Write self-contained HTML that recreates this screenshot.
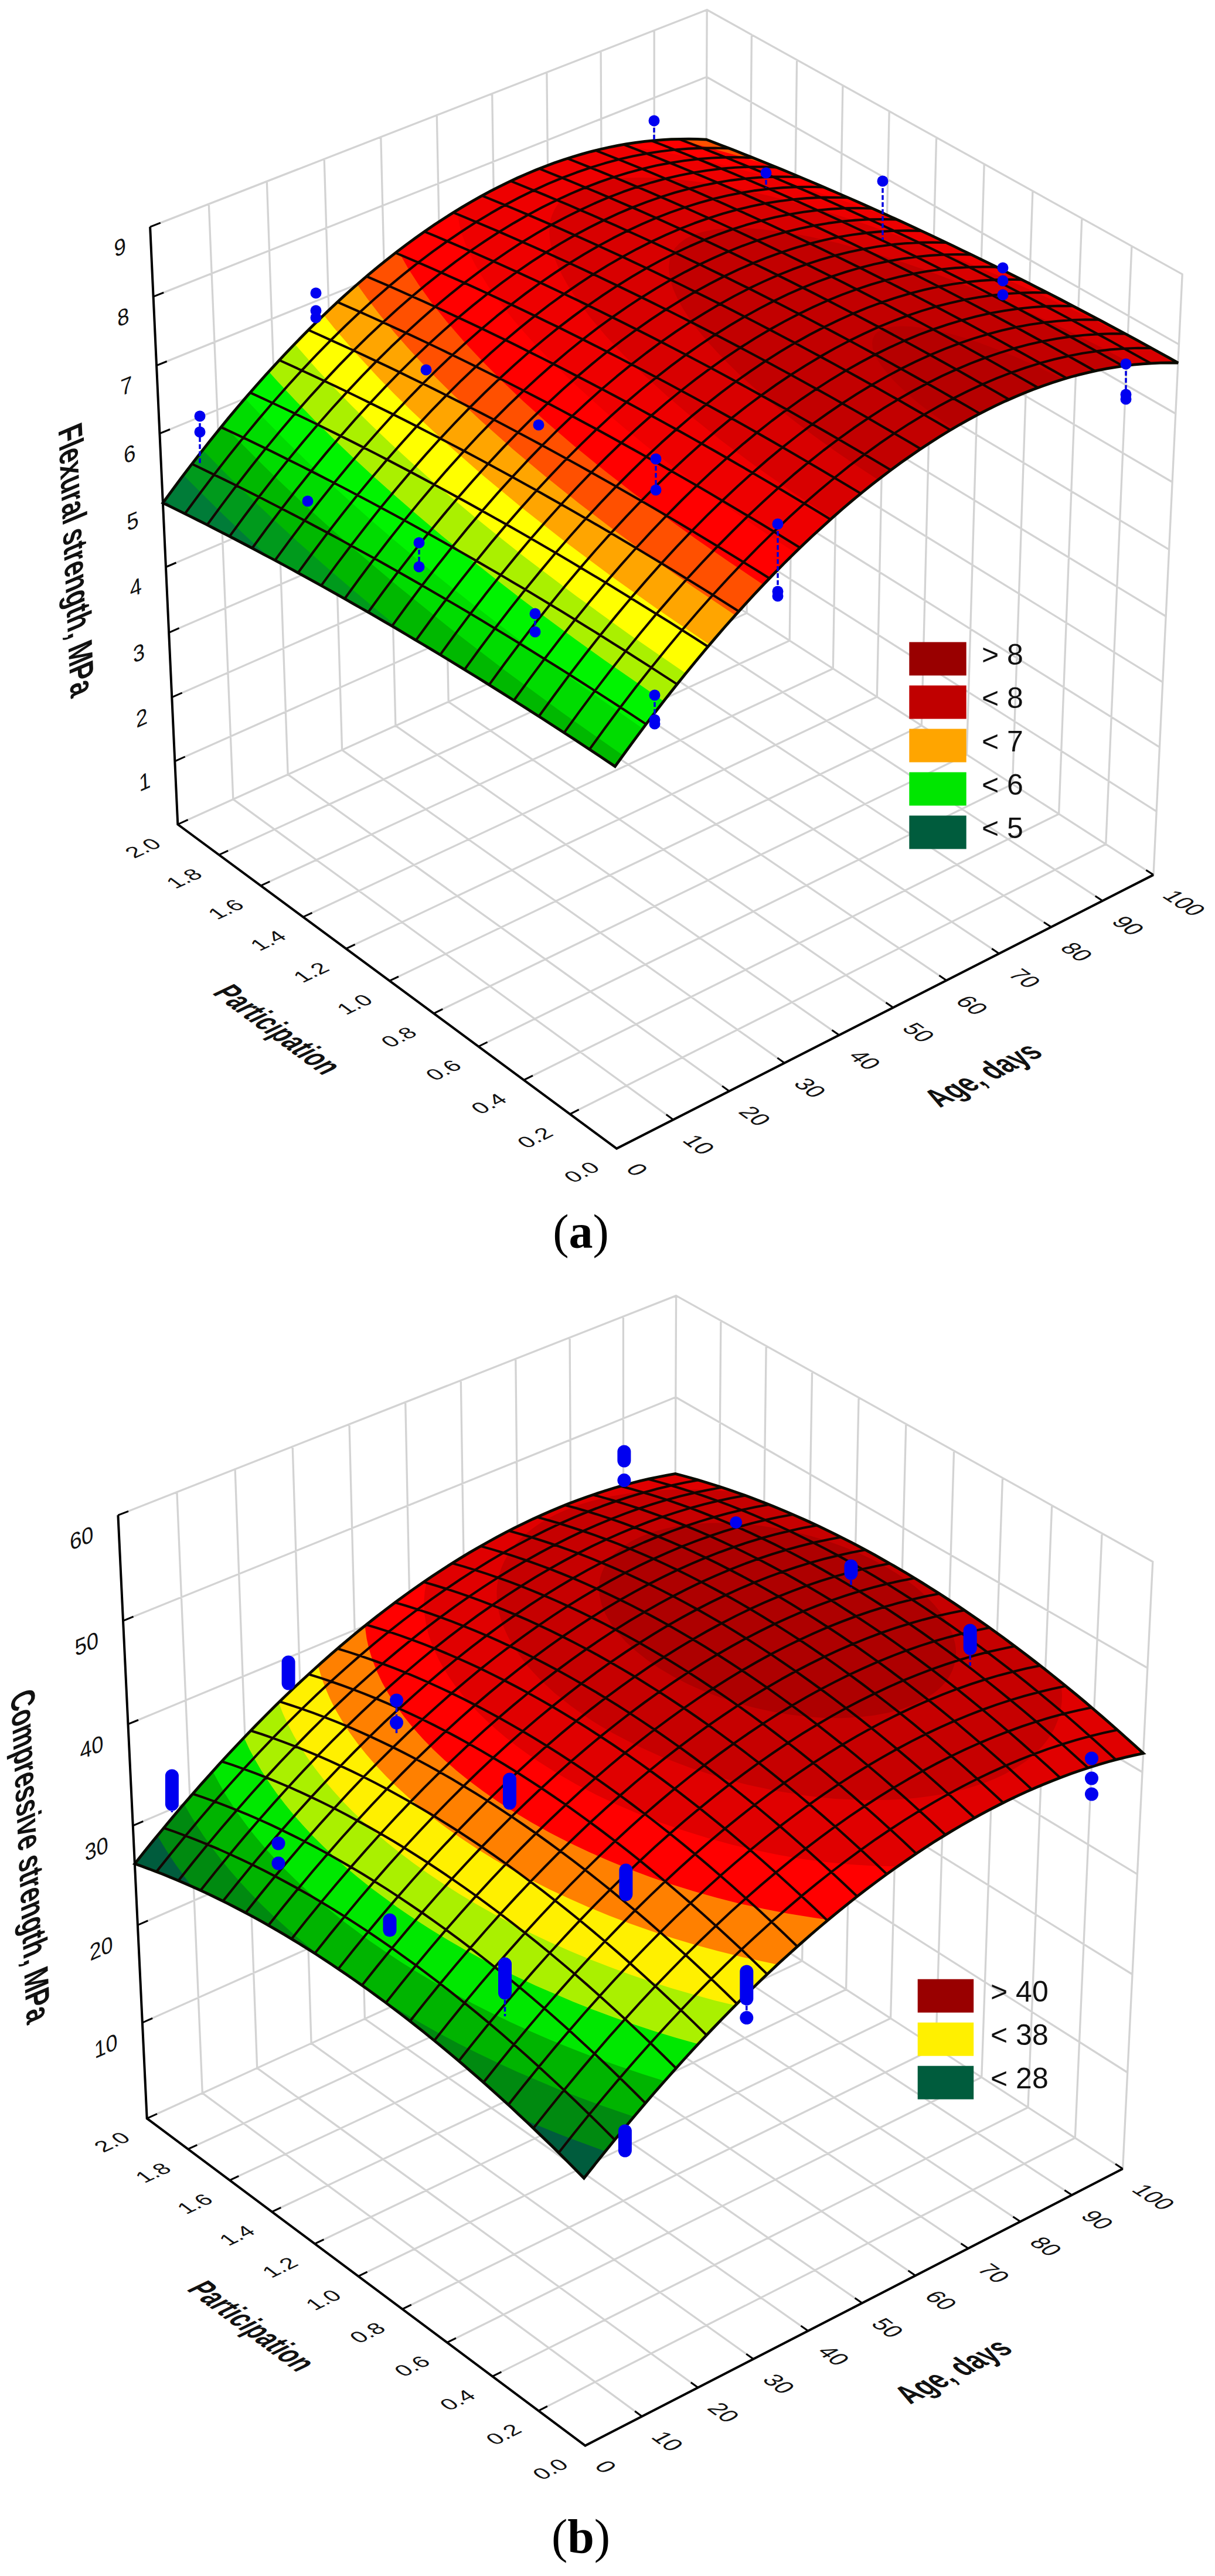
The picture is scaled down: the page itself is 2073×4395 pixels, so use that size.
<!DOCTYPE html>
<html><head><meta charset="utf-8"><title>Figure</title>
<style>
html,body{margin:0;padding:0;background:#fff}
svg{display:block}
text{font-family:"Liberation Sans",sans-serif;fill:#111}
.cap{font-family:"Liberation Serif",serif;fill:#000}
</style></head><body>
<svg width="2073" height="4395" viewBox="0 0 2073 4395">
<rect width="2073" height="4395" fill="#fff"/>
<g id="chart-a">
<path d="M1052.1 1959.6L303.3 1406.5 M1052.1 1959.6L1968 1492.6 M303.3 1406.5L256.1 387.1 M1968 1492.6L2017.2 467.9 M1148.8 1910.4L397.8 1363.7 M972.4 1900.8L1886.8 1440.3 M397.8 1363.7L356.3 348 M1886.8 1440.3L1930.9 419.9 M1244.3 1861.7L491.2 1321.4 M893.8 1842.7L1806.6 1388.7 M491.2 1321.4L455.3 309.4 M1806.6 1388.7L1845.8 372.6 M1338.6 1813.6L583.6 1279.6 M816.3 1785.5L1727.5 1337.8 M583.6 1279.6L553.2 271.3 M1727.5 1337.8L1761.9 325.9 M1431.8 1766.1L674.9 1238.2 M740 1729.1L1649.4 1287.6 M674.9 1238.2L649.8 233.7 M1649.4 1287.6L1679.2 279.9 M1523.9 1719.1L765.2 1197.3 M664.7 1673.4L1572.4 1238 M765.2 1197.3L745.3 196.5 M1572.4 1238L1597.6 234.5 M1614.8 1672.7L854.5 1156.9 M590.4 1618.6L1496.3 1189 M854.5 1156.9L839.7 159.7 M1496.3 1189L1517.2 189.8 M1704.7 1626.9L942.8 1116.9 M517.1 1564.5L1421.3 1140.7 M942.8 1116.9L932.9 123.3 M1421.3 1140.7L1437.9 145.7 M1793.5 1581.6L1030.1 1077.3 M444.9 1511.1L1347.2 1093.1 M1030.1 1077.3L1025.1 87.4 M1347.2 1093.1L1359.6 102.1 M1881.3 1536.9L1116.5 1038.2 M373.6 1458.5L1274.1 1046 M1116.5 1038.2L1116.2 51.9 M1274.1 1046L1282.4 59.2 M1968 1492.6L1201.9 999.5 M303.3 1406.5L1201.9 999.5 M1201.9 999.5L1206.2 16.8 M1201.9 999.5L1206.2 16.8 M298.3 1298.8L1202.4 895.4 M1202.4 895.4L1973.2 1384.4 M293.3 1189.7L1202.8 790 M1202.8 790L1978.5 1274.8 M288.2 1079.3L1203.3 683.4 M1203.3 683.4L1983.8 1163.8 M283 967.5L1203.8 575.6 M1203.8 575.6L1989.2 1051.5 M277.8 854.3L1204.2 466.4 M1204.2 466.4L1994.7 937.7 M272.4 739.7L1204.7 356 M1204.7 356L2000.2 822.5 M267.1 623.6L1205.2 244.3 M1205.2 244.3L2005.8 705.8 M261.6 506.1L1205.7 131.3 M1205.7 131.3L2011.5 587.6 M256.1 387.1L1206.2 16.8 M1206.2 16.8L2017.2 467.9" fill="none" stroke="#d3d3d3" stroke-width="3.3" stroke-linecap="round"/>
<path d="M303.3 1406.5L320.6 1398.7 M298.3 1298.8L315.7 1291 M293.3 1189.7L310.7 1182 M288.2 1079.3L305.6 1071.7 M283 967.5L300.5 960 M277.8 854.3L295.3 847 M272.4 739.7L290 732.5 M267.1 623.6L284.7 616.5 M261.6 506.1L279.3 499.1 M256.1 387.1L273.8 380.2 M1968 1492.6L1955.4 1484.5 M972.4 1900.8L987.6 1893.1 M1881.3 1536.9L1868.7 1528.7 M893.8 1842.7L909 1835.1 M1793.5 1581.6L1781 1573.4 M816.3 1785.5L831.6 1778 M1704.7 1626.9L1692.2 1618.6 M740 1729.1L755.3 1721.7 M1614.8 1672.7L1602.4 1664.3 M664.7 1673.4L680 1666.1 M1523.9 1719.1L1511.5 1710.6 M590.4 1618.6L605.7 1611.3 M1431.8 1766.1L1419.5 1757.5 M517.1 1564.5L532.5 1557.3 M1338.6 1813.6L1326.4 1804.9 M444.9 1511.1L460.3 1504 M1244.3 1861.7L1232.1 1852.9 M373.6 1458.5L389.1 1451.4 M1148.8 1910.4L1136.7 1901.5" fill="none" stroke="#000" stroke-width="3"/>
<polygon points="2009.1,618.6 1906.3,562.1 1804.4,508.3 1702,456.4 1601.5,407.7 1499.7,360.7 1403.6,318.4 1300.9,275.7 1205.2,238.1 1182,237.3 1161.1,237.3 1119.8,239.3 1099.4,241.4 1075,244.7 1054.8,248.2 1030.6,253.2 1010.5,258 986.5,264.7 966.5,270.9 942.5,279.2 898.3,296.7 857.9,315.4 821.2,334.6 784.1,356.1 746.4,380 712.4,403.4 677.8,429.1 642.5,457.2 606.4,487.8 569.4,521.3 531.4,557.8 497.2,592.6 462.1,630.2 425.9,670.9 388.5,715 349.8,762.9 315.5,807.2 277.9,858 368.1,903 462.6,952.4 556.1,1003.6 654.4,1059.7 751.5,1117.4 850.9,1178.7 949.3,1241.5 1049.4,1307.6 1106.4,1230.2 1134.9,1193.2 1191.7,1122.6 1220,1089 1248.3,1056.6 1276.6,1025.3 1304.7,995.2 1332.9,966.2 1360.9,938.5 1388.9,911.8 1416.9,886.4 1444.7,862.1 1472.4,839 1500.1,817 1528,796 1555.7,776.2 1583.4,757.6 1610.9,740.2 1647.5,718.8 1692.9,695 1733.4,676.4 1773.6,660.4 1809.1,648.4 1826.8,643.2 1853.1,636.3 1879.3,630.6 1905.4,626 1931.3,622.6 1957.7,620.2 1983.9,619.1 2010,619.1" fill="#005c3d"/>
<polygon points="2009.1,618.6 1906.3,562.1 1804.4,508.3 1702,456.4 1601.5,407.7 1499.7,360.7 1403.6,318.4 1300.9,275.7 1205.2,238.1 1182,237.3 1161.1,237.3 1119.8,239.3 1099.4,241.4 1075,244.7 1054.8,248.2 1030.6,253.2 1010.5,258 986.5,264.7 966.5,270.9 942.5,279.2 898.3,296.7 857.9,315.4 821.2,334.6 784.1,356.1 746.4,380 712.4,403.4 673.4,432.5 638.1,460.9 601.9,491.9 564.7,525.7 526.6,562.6 492.3,597.8 451.8,641.5 415.3,683.1 372,735 332.8,784.6 286.1,846.8 283,853.8 295.5,866.3 401.3,920.1 495.5,970.2 595.8,1026 694.9,1083.5 781.2,1135.4 869.6,1190.5 959.3,1248 1049.4,1307.6 1106.4,1230.2 1134.9,1193.2 1191.7,1122.6 1220,1089 1248.3,1056.6 1276.6,1025.3 1304.7,995.2 1332.9,966.2 1360.9,938.5 1388.9,911.8 1416.9,886.4 1444.7,862.1 1472.4,839 1500.1,817 1528,796 1555.7,776.2 1583.4,757.6 1610.9,740.2 1647.5,718.8 1692.9,695 1733.4,676.4 1773.6,660.4 1809.1,648.4 1826.8,643.2 1853.1,636.3 1879.3,630.6 1905.4,626 1931.3,622.6 1957.7,620.2 1983.9,619.1 2010,619.1" fill="#007c38"/>
<polygon points="2009.1,618.6 1906.3,562.1 1804.4,508.3 1702,456.4 1601.5,407.7 1499.7,360.7 1403.6,318.4 1300.9,275.7 1205.2,238.1 1182,237.3 1161.1,237.3 1119.8,239.3 1099.4,241.4 1075,244.7 1054.8,248.2 1030.6,253.2 1010.5,258 986.5,264.7 966.5,270.9 942.5,279.2 898.3,296.7 857.9,315.4 821.2,334.6 788.2,353.6 750.6,377.2 716.7,400.4 682.2,425.8 647,453.5 611,483.9 578.8,512.7 541,548.4 507.1,582.4 467.2,624.6 431.1,664.8 388.5,715 344.1,770 315.5,807.2 315.3,812.9 347.8,845.6 383.2,880.2 421.2,916.2 457.7,949.8 530.9,989.6 603.5,1030.4 675,1071.8 748.5,1115.6 823.7,1161.7 898.4,1208.7 974.3,1257.8 1049.4,1307.6 1106.4,1230.2 1134.9,1193.2 1191.7,1122.6 1220,1089 1248.3,1056.6 1276.6,1025.3 1304.7,995.2 1332.9,966.2 1360.9,938.5 1388.9,911.8 1416.9,886.4 1444.7,862.1 1472.4,839 1500.1,817 1528,796 1555.7,776.2 1583.4,757.6 1610.9,740.2 1647.5,718.8 1692.9,695 1733.4,676.4 1773.6,660.4 1809.1,648.4 1826.8,643.2 1853.1,636.3 1879.3,630.6 1905.4,626 1931.3,622.6 1957.7,620.2 1983.9,619.1 2010,619.1" fill="#009a1c"/>
<polygon points="2009.1,618.6 1906.3,562.1 1804.4,508.3 1702,456.4 1601.5,407.7 1499.7,360.7 1403.6,318.4 1300.9,275.7 1205.2,238.1 1182,237.3 1161.1,237.3 1119.8,239.3 1099.4,241.4 1075,244.7 1054.8,248.2 1030.6,253.2 1010.5,258 986.5,264.7 966.5,270.9 942.5,279.2 898.3,296.7 857.9,315.4 825.3,332.3 792.4,351.1 759,371.7 729.5,391.4 695.2,416 664.7,439.4 629.1,468.4 597.3,495.9 564.7,525.7 531.4,557.8 497.2,592.6 462.1,630.2 425.9,670.9 388.5,715 349.8,762.9 347.2,769.1 387.1,809.7 425.6,847.4 466.4,886 508.8,924.9 552.6,963.8 597.4,1002.5 646.1,1043.3 695.1,1083.4 789.8,1140.8 874.9,1193.8 961.8,1249.6 1049.4,1307.6 1106.4,1230.2 1134.9,1193.2 1191.7,1122.6 1220,1089 1248.3,1056.6 1276.6,1025.3 1304.7,995.2 1332.9,966.2 1360.9,938.5 1388.9,911.8 1416.9,886.4 1444.7,862.1 1472.4,839 1500.1,817 1528,796 1555.7,776.2 1583.4,757.6 1610.9,740.2 1647.5,718.8 1692.9,695 1733.4,676.4 1773.6,660.4 1809.1,648.4 1826.8,643.2 1853.1,636.3 1879.3,630.6 1905.4,626 1931.3,622.6 1957.7,620.2 1983.9,619.1 2010,619.1" fill="#00b800"/>
<polygon points="2009.1,618.6 1906.3,562.1 1804.4,508.3 1702,456.4 1601.5,407.7 1499.7,360.7 1403.6,318.4 1300.9,275.7 1205.2,238.1 1165.2,237.2 1123.9,239 1083.1,243.5 1062.9,246.7 1038.7,251.4 998.5,261.2 978.5,267.1 954.5,274.9 910.4,291.6 870,309.5 837.5,325.8 808.9,341.5 775.8,361.2 746.4,380 712.4,403.4 682.2,425.8 651.4,449.9 620.1,476 588,504.2 555.3,534.6 521.7,567.5 487.3,603 441.5,653 399.3,702 383,721.6 383.2,726.8 414.7,759.4 449.2,793.9 482.5,826.2 518.2,859.7 555.9,894 595.1,928.7 635.6,963.6 680.1,1000.9 768.1,1072 861.8,1144 960,1216.3 1063,1288.8 1092.4,1248.7 1121.9,1209.9 1151.3,1172.2 1180.7,1135.8 1210.1,1100.6 1239.4,1066.7 1268.6,1033.9 1297.8,1002.5 1327,972.2 1356,943.2 1385,915.5 1413.9,889 1442.7,863.8 1471.5,839.8 1500.1,817 1528,796 1555.7,776.2 1583.4,757.6 1629.3,729.2 1665.7,708.9 1703.3,690 1737.9,674.5 1773.6,660.4 1809.1,648.4 1826.8,643.2 1853.1,636.3 1879.3,630.6 1905.4,626 1931.3,622.6 1957.7,620.2 1983.9,619.1 2010,619.1" fill="#00dc00"/>
<polygon points="2009.1,618.6 1906.3,562.1 1804.4,508.3 1702,456.4 1601.5,407.7 1499.7,360.7 1403.6,318.4 1300.9,275.7 1205.2,238.1 1165.2,237.2 1123.9,239 1083.1,243.5 1062.9,246.7 1038.7,251.4 998.5,261.2 978.5,267.1 954.5,274.9 910.4,291.6 870,309.5 841.6,323.7 813,339.2 784.1,356.1 754.9,374.4 725.2,394.4 695.2,416 664.7,439.4 638.1,460.9 606.4,487.8 578.8,512.7 545.8,543.8 516.9,572.4 477.3,613.7 436.3,658.9 420.6,676.9 420.3,682 451.2,714.8 485.1,749.3 521.5,785 556.5,818.2 593.4,852 631.8,886.3 671.5,920.5 714.9,957 758.8,992.9 803.1,1028.2 895.7,1099.2 994.1,1171.3 1096.7,1243 1125.8,1204.7 1155,1167.6 1184.1,1131.7 1213.1,1097 1242.1,1063.5 1271.1,1031.3 1299.9,1000.2 1328.8,970.4 1357.5,941.8 1386.2,914.4 1414.8,888.2 1443.3,863.3 1471.8,839.5 1500.1,817 1528,796 1555.7,776.2 1583.4,757.6 1629.3,729.2 1665.7,708.9 1703.3,690 1737.9,674.5 1773.6,660.4 1809.1,648.4 1826.8,643.2 1853.1,636.3 1879.3,630.6 1905.4,626 1931.3,622.6 1957.7,620.2 1983.9,619.1 2010,619.1" fill="#00f400"/>
<polygon points="2009.1,618.6 1906.3,562.1 1804.4,508.3 1702,456.4 1601.5,407.7 1499.7,360.7 1403.6,318.4 1300.9,275.7 1205.2,238.1 1165.2,237.2 1128,238.7 1087.2,242.9 1046.7,249.7 1006.5,259.1 966.5,270.9 926.4,285.2 886.2,302.1 853.8,317.4 821.2,334.6 788.2,353.6 759,371.7 725.2,394.4 695.2,416 664.7,439.4 633.6,464.6 588,504.2 545.8,543.8 502.2,587.5 462.1,630.2 459.8,635.3 471.1,647.9 501,680.1 533.8,714 565.7,745.6 599.8,778.3 635.8,811.6 673.3,845.1 711.9,878.6 754.1,914.2 796.7,949 841.9,985 887.3,1020.2 933,1054.7 981.5,1090.4 1030.9,1126 1132.3,1196.3 1189.5,1125.1 1218,1091.2 1246.5,1058.5 1275,1026.9 1303.4,996.6 1331.7,967.4 1360,939.4 1388.2,912.5 1416.3,886.9 1444.3,862.4 1472.2,839.1 1500.1,817 1528,796 1555.7,776.2 1583.4,757.6 1629.3,729.2 1676.6,703.2 1718.3,683 1755.8,667.2 1791.4,654.2 1826.8,643.2 1853.1,636.3 1879.3,630.6 1905.4,626 1931.3,622.6 1957.7,620.2 1983.9,619.1 2010,619.1" fill="#aaf000"/>
<polygon points="2009.1,618.6 1906.3,562.1 1804.4,508.3 1702,456.4 1601.5,407.7 1499.7,360.7 1403.6,318.4 1300.9,275.7 1205.2,238.1 1165.2,237.2 1128,238.7 1087.2,242.9 1046.7,249.7 1006.5,259.1 966.5,270.9 926.4,285.2 886.2,302.1 841.6,323.7 800.6,346.2 759,371.7 716.7,400.4 673.4,432.5 633.6,464.6 592.7,500 550.6,539.2 512,577.4 507.1,582.4 503.3,587.3 543,632.4 571.4,662.8 599.1,691.3 632.8,724.6 665.3,755.4 699.5,786.8 735.1,818.4 771.7,850 811.6,883.4 851.9,916.1 894.7,949.9 980.6,1015.1 1072.8,1081.7 1170,1148.7 1225.6,1082.3 1253.4,1050.7 1281,1020.3 1308.7,991 1336.2,962.8 1363.7,935.7 1391.2,909.7 1418.5,884.9 1445.8,861.1 1473,838.5 1500.1,817 1528,796 1555.7,776.2 1583.4,757.6 1610.9,740.2 1647.5,718.8 1683.8,699.5 1719.4,682.5 1755.8,667.2 1791.4,654.2 1826.8,643.2 1853.1,636.3 1879.3,630.6 1905.4,626 1931.3,622.6 1957.7,620.2 1983.9,619.1 2010,619.1" fill="#ffff00"/>
<polygon points="2009.1,618.6 1906.3,562.1 1804.4,508.3 1702,456.4 1601.5,407.7 1499.7,360.7 1403.6,318.4 1300.9,275.7 1205.2,238.1 1165.2,237.2 1128,238.7 1091.2,242.4 1050.7,248.9 1014.6,257 974.5,268.3 934.4,282.1 898.3,296.7 853.8,317.4 813,339.2 767.4,366.4 725.2,394.4 682.2,425.8 638.1,460.9 597.3,495.9 555.3,534.6 553.5,539.1 570.4,560.1 607.9,603.6 648.1,647 674.3,673.7 702.9,701.8 760.1,755.1 823.5,810.8 893.2,868.4 966.8,926.2 1043.9,983.8 1125.6,1042 1210.5,1099.8 1239.7,1066 1268.9,1033.4 1298.1,1002 1327.2,971.8 1356.2,942.9 1385.2,915.2 1414,888.8 1442.8,863.7 1471.5,839.7 1500.1,817 1528,796 1555.7,776.2 1583.4,757.6 1629.3,729.2 1665.7,708.9 1698.3,692.4 1731.3,677.3 1773.6,660.4 1809.1,648.4 1826.8,643.2 1853.1,636.3 1879.3,630.6 1905.4,626 1931.3,622.6 1957.7,620.2 1983.9,619.1 2010,619.1" fill="#ffa500"/>
<polygon points="2009.1,618.6 1906.3,562.1 1804.4,508.3 1702,456.4 1601.5,407.7 1499.7,360.7 1403.6,318.4 1300.9,275.7 1205.2,238.1 1169.4,237.2 1132.1,238.4 1095.3,241.9 1058.8,247.4 1022.6,255 986.5,264.7 950.5,276.3 910.4,291.6 870,309.5 833.5,327.9 796.5,348.6 759,371.7 721,397.4 686.5,422.5 647,453.5 611,483.9 611.4,488 626.4,509 648.1,537.2 673.3,567.7 695.5,592.9 720.5,620.1 745.1,645.5 772.1,672.3 820.6,718 873.4,764.9 928.9,811.6 987.9,858.8 1049.6,906 1115.5,954.2 1183.1,1001.7 1254.2,1049.6 1281.7,1019.3 1309.3,990.1 1336.8,962.1 1364.2,935.1 1391.5,909.3 1418.8,884.6 1446,860.9 1473.1,838.4 1500.1,817 1528,796 1555.7,776.2 1583.4,757.6 1610.9,740.2 1647.5,718.8 1676.6,703.2 1711.7,686.1 1746.9,670.8 1773.6,660.4 1809.1,648.4 1826.8,643.2 1853.1,636.3 1879.3,630.6 1905.4,626 1931.3,622.6 1957.7,620.2 1983.9,619.1 2010,619.1" fill="#ff5000"/>
<polygon points="2009.1,618.6 1914.2,566.4 1820.3,516.6 1727.2,469 1633.5,423 1529.6,374.3 1430.2,329.9 1335.5,289.8 1327.6,286.6 1301.8,278.6 1254.7,264.5 1205,250.8 1153,237.6 1148.6,237.6 1123.9,239 1095.3,241.9 1066.9,246 1038.7,251.4 1010.5,258 982.5,265.9 954.5,274.9 926.4,285.2 894.3,298.5 861.9,313.4 829.4,330.1 796.5,348.6 759,371.7 725.2,394.4 682.2,425.8 680.3,429.4 696.5,458.2 714.5,486 736.4,516.4 762.1,548.6 790.9,581.9 822.4,615.6 855.6,649.1 892.7,684.4 935,722.5 980.8,761.7 1029,801 1078.7,839.8 1131.3,879.1 1186.7,919 1242.8,957.8 1302.1,997.4 1330.6,968.1 1359.1,939.9 1387.5,912.9 1415.7,887.2 1444,862.6 1472.1,839.2 1500.1,817 1528,796 1555.7,776.2 1583.4,757.6 1629.3,729.2 1665.7,708.9 1692.9,695 1724.4,680.3 1755.8,667.2 1773.6,660.4 1809.1,648.4 1826.8,643.2 1853.1,636.3 1879.3,630.6 1905.4,626 1931.3,622.6 1957.7,620.2 1983.9,619.1 2010,619.1" fill="#ff0000"/>
<polygon points="2009.1,618.6 1899.5,558.5 1791.3,501.6 1682.9,447 1578,396.7 1539,378.6 1513.5,369 1443.5,343.9 1374.8,321.2 1328.7,307.1 1285.9,294.9 1247.6,284.7 1207.7,275 1166.7,266.1 1131.8,259.3 1096.6,253.5 1061.3,248.7 1054.8,248.2 1034.6,252.3 1010.5,258 974.5,268.3 938.4,280.6 898.3,296.7 861.9,313.4 821.2,334.6 784.1,356.1 780.5,358.7 781.5,369.7 784.1,384.5 788.1,399.4 794.7,418.1 801.2,432.9 810.5,451.3 820.9,469.3 832.1,486.9 846.3,507.4 861.2,527 876.3,545.9 894.2,566.8 914.6,589.4 934.8,610.6 956.9,632.8 980.7,655.6 1029.8,700.1 1064.6,729.8 1100.7,759.3 1139.1,789.5 1179.3,820 1221.1,850.6 1264.7,881.4 1309.5,912 1356,942.6 1385,915 1413.9,888.7 1442.7,863.6 1471.5,839.7 1500.1,817 1528,796 1555.7,776.2 1583.4,757.6 1610.9,740.2 1647.5,718.8 1676.6,703.2 1711,686.4 1741.5,673 1773.6,660.4 1791.4,654.2 1826.8,643.2 1853.1,636.3 1879.3,630.6 1905.4,626 1931.3,622.6 1957.7,620.2 1983.9,619.1 2010,619.1" fill="#ee0000"/>
<polygon points="2005.5,618.5 1929.1,577.7 1852.5,539.1 1776,502.7 1699,468.3 1623.7,436.9 1547.5,407.5 1476.2,382.3 1407.7,360.3 1341.3,341.5 1308.6,333.3 1274.8,325.5 1245.9,319.6 1216.6,314.3 1187.2,309.8 1163.7,306.9 1134.6,304.3 1111.9,303.2 1089.9,302.9 1068.7,303.6 1048.6,305.4 1029.8,308.2 1012.4,312.2 1000.5,315.9 989.5,320.2 979.5,325.2 970.6,330.7 962.8,336.7 956.1,343.3 950.4,350.4 945.8,357.9 941.2,368.5 939,376.8 937.4,388.4 937.3,397.3 938.3,409.4 940,418.7 943.2,431.1 947.4,443.6 952.6,456 958.5,468.3 966.8,483.5 975.9,498.3 985.6,512.8 1008.2,543 1033.9,573.4 1063.7,605.4 1098.5,639.6 1136.6,674.3 1176.4,708.3 1231.4,752.3 1289.6,795.8 1352.1,839.7 1418.8,884 1446,860.6 1473.1,838.3 1528,796 1555.7,776.2 1583.4,757.6 1610.9,740.2 1647.5,718.8 1676.6,703.2 1705.5,688.9 1734.3,676 1762.9,664.4 1791.4,654.2 1826.8,643.2 1853.1,636.3 1879.3,630.6 1905.4,626 1931.3,622.6 1956.5,620.3 1981.5,619.1 2006.4,619" fill="#d80000"/>
<polygon points="1933.7,621.8 1876.5,591.4 1818.1,562.1 1759.2,534.4 1700.8,508.7 1643.8,485.2 1586,463.3 1532,444.6 1480.2,428.5 1430.2,414.8 1380.4,403.4 1337.2,395.7 1298.2,391 1276.9,389.6 1260.4,389.2 1244.5,389.4 1229.3,390.4 1215,392.2 1201.8,394.9 1189.6,398.3 1181.4,401.4 1169.3,407.6 1159.4,414.9 1151.6,423.3 1146.1,432.6 1142.7,442.6 1141.1,455.4 1141.7,466.6 1144.4,480.2 1148.9,494 1156.1,510 1164.7,525.7 1175.9,543 1189.5,561.5 1205.3,580.7 1222.8,600.1 1241.5,619.5 1266.9,643.9 1293.2,667.5 1322.2,692 1353.9,717.2 1387.2,742.4 1422.7,767.9 1459.2,793 1497.6,818.2 1500.1,817 1528,796 1555.7,776.2 1583.4,757.6 1610.9,740.2 1647.5,718.8 1676.6,703.2 1698.3,692.4 1722.6,681.1 1746.9,670.8 1791.4,654.2 1826.8,643.2 1853.1,636.3 1879.3,630.6 1905.4,626 1934.3,622.1" fill="#c20000"/>
<polygon points="1813,646.5 1763.9,622.5 1715.4,601.5 1669.3,584.2 1646.8,576.8 1625.1,570.5 1605.5,565.5 1586.1,561.4 1569.4,558.7 1552.5,556.9 1537.8,556.4 1524.2,557.2 1513.4,559.2 1504.3,562.3 1497.2,566.5 1492.1,571.8 1488.9,578.7 1488,586.3 1489.2,595.1 1492.2,604.1 1497.6,614.5 1504.5,625.1 1513.8,637 1524.9,649.4 1537.7,662.1 1551.9,675.1 1568,688.7 1585.7,702.5 1625.2,730.6 1625.9,731.1 1647.5,718.8 1683.8,699.5 1721.4,681.6 1762.9,664.4 1791.4,654.2 1813.8,646.9 1813.2,646.7" fill="#b60000"/>
<path d="M1102.4 1235.6 L1080.4 1221.1 L1058.5 1206.8 L1036.7 1192.6 L1015 1178.6 L993.4 1164.8 L971.8 1151.1 L950.4 1137.5 L929 1124.2 L907.7 1111 L886.6 1097.9 L865.5 1085 L844.4 1072.2 L823.5 1059.6 L802.7 1047.1 L781.9 1034.8 L761.2 1022.7 L740.6 1010.7 L720.1 998.8 L699.7 987.1 L679.3 975.5 L659.1 964.1 L638.9 952.8 L618.8 941.7 L598.8 930.7 L578.9 919.8 L559.1 909.1 L539.3 898.6 L519.7 888.1 L500.1 877.9 L480.6 867.7 L461.1 857.7 L441.8 847.8 L422.5 838.1 L403.4 828.5 L384.3 819.1 L365.3 809.8 L346.3 800.6 L327.5 791.5 M1005.8 1278.5 L1032.1 1242.2 L1058.5 1206.8 L1084.8 1172.3 L1111.2 1138.9 L1137.5 1106.5 L1163.7 1075 L1190 1044.5 L1216.2 1015 L1242.3 986.6 L1268.4 959.1 L1294.4 932.6 L1320.4 907.1 L1346.4 882.6 L1372.2 859.1 L1398 836.7 L1423.8 815.2 L1449.4 794.7 L1475 775.3 L1500.5 756.8 L1525.9 739.4 L1551.2 722.9 L1576.5 707.5 L1601.6 693 L1626.6 679.6 L1651.6 667.1 L1676.4 655.7 L1701.1 645.2 L1725.7 635.7 L1750.2 627.2 L1774.5 619.6 L1798.8 613.1 L1822.9 607.5 L1846.9 602.8 L1870.7 599.2 L1894.4 596.4 L1918 594.7 L1941.5 593.8 L1964.8 594 M1155.2 1167.4 L1133.1 1153.1 L1111.2 1138.9 L1089.3 1124.9 L1067.5 1111.1 L1045.8 1097.4 L1024.2 1083.8 L1002.6 1070.4 L981.2 1057.2 L959.8 1044.1 L938.6 1031.2 L917.4 1018.4 L896.3 1005.8 L875.2 993.4 L854.3 981 L833.5 968.9 L812.7 956.9 L792 945 L771.4 933.3 L750.9 921.7 L730.5 910.3 L710.2 899 L689.9 887.8 L669.7 876.8 L649.6 866 L629.6 855.3 L609.7 844.7 L589.9 834.3 L570.1 824 L550.5 813.9 L530.9 803.9 L511.4 794 L491.9 784.3 L472.6 774.7 L453.3 765.2 L434.2 755.9 L415.1 746.7 L396 737.7 L377.1 728.8 M962.4 1250.1 L988.7 1213.9 L1015 1178.6 L1041.3 1144.3 L1067.5 1111.1 L1093.7 1078.7 L1119.9 1047.4 L1146.1 1017.1 L1172.2 987.7 L1198.3 959.4 L1224.3 932 L1250.3 905.7 L1276.2 880.3 L1302.1 856 L1327.9 832.6 L1353.6 810.2 L1379.3 788.9 L1404.9 768.5 L1430.5 749.2 L1455.9 730.8 L1481.3 713.5 L1506.6 697.1 L1531.8 681.8 L1556.9 667.4 L1581.9 654.1 L1606.8 641.7 L1631.6 630.3 L1656.3 619.9 L1680.8 610.5 L1705.3 602.1 L1729.6 594.6 L1753.9 588.1 L1778 582.6 L1802 578 L1825.8 574.4 L1849.5 571.8 L1873.1 570.1 L1896.6 569.3 L1919.9 569.4 M1207.9 1103.2 L1185.8 1089 L1163.7 1075 L1141.8 1061.1 L1119.9 1047.4 L1098.1 1033.9 L1076.4 1020.5 L1054.8 1007.2 L1033.3 994.1 L1011.8 981.2 L990.5 968.4 L969.2 955.8 L948 943.3 L926.9 931 L905.9 918.8 L885 906.8 L864.2 894.9 L843.4 883.2 L822.7 871.6 L802.1 860.1 L781.6 848.9 L761.2 837.7 L740.9 826.7 L720.6 815.9 L700.5 805.1 L680.4 794.6 L660.4 784.1 L640.5 773.8 L620.6 763.7 L600.9 753.7 L581.2 743.8 L561.6 734.1 L542.1 724.5 L522.7 715 L503.3 705.7 L484.1 696.5 L464.9 687.5 L445.8 678.6 L426.8 669.8 M919.4 1222.2 L945.6 1186.2 L971.8 1151.1 L998 1117 L1024.2 1083.8 L1050.3 1051.6 L1076.4 1020.5 L1102.5 990.3 L1128.5 961.1 L1154.5 932.8 L1180.5 905.6 L1206.4 879.4 L1232.3 854.2 L1258.1 829.9 L1283.9 806.7 L1309.6 784.4 L1335.2 763.2 L1360.8 743 L1386.2 723.7 L1411.7 705.5 L1437 688.2 L1462.2 672 L1487.4 656.7 L1512.5 642.5 L1537.4 629.2 L1562.3 616.9 L1587.1 605.6 L1611.7 595.3 L1636.3 586 L1660.7 577.6 L1685.1 570.2 L1709.3 563.8 L1733.4 558.3 L1757.4 553.8 L1781.2 550.3 L1804.9 547.7 L1828.5 546 L1852 545.3 L1875.3 545.5 M1260.5 1043 L1238.3 1028.9 L1216.2 1015 L1194.1 1001.3 L1172.2 987.7 L1150.3 974.3 L1128.5 961.1 L1106.9 948 L1085.3 935 L1063.7 922.2 L1042.3 909.6 L1021 897.1 L999.7 884.7 L978.5 872.5 L957.5 860.5 L936.4 848.6 L915.5 836.8 L894.7 825.2 L874 813.8 L853.3 802.5 L832.7 791.3 L812.2 780.3 L791.8 769.4 L771.5 758.7 L751.2 748.1 L731.1 737.7 L711 727.4 L691 717.2 L671.1 707.2 L651.3 697.3 L631.5 687.6 L611.9 678 L592.3 668.5 L572.8 659.2 L553.4 650 L534 640.9 L514.8 632 L495.6 623.2 L476.5 614.5 M876.8 1195 L902.9 1159.1 L929 1124.2 L955.1 1090.2 L981.2 1057.2 L1007.2 1025.2 L1033.3 994.1 L1059.3 964.1 L1085.3 935 L1111.2 906.9 L1137.1 879.8 L1162.9 853.7 L1188.7 828.6 L1214.5 804.5 L1240.2 781.4 L1265.8 759.2 L1291.4 738.1 L1316.9 718 L1342.4 698.8 L1367.7 680.7 L1393 663.6 L1418.2 647.4 L1443.3 632.2 L1468.4 618.1 L1493.3 604.9 L1518.2 592.7 L1542.9 581.5 L1567.6 571.2 L1592.1 562 L1616.5 553.7 L1640.9 546.4 L1665.1 540 L1689.1 534.6 L1713.1 530.2 L1737 526.7 L1760.7 524.2 L1784.3 522.6 L1807.7 521.9 L1831 522.2 M1312.9 986.7 L1290.6 972.8 L1268.4 959.1 L1246.3 945.5 L1224.3 932 L1202.4 918.7 L1180.5 905.6 L1158.8 892.6 L1137.1 879.8 L1115.5 867.1 L1094 854.6 L1072.6 842.3 L1051.3 830 L1030 818 L1008.9 806.1 L987.8 794.3 L966.8 782.7 L945.9 771.2 L925.1 759.9 L904.3 748.7 L883.7 737.7 L863.1 726.8 L842.7 716 L822.3 705.4 L801.9 695 L781.7 684.6 L761.6 674.5 L741.5 664.4 L721.5 654.5 L701.6 644.8 L681.8 635.1 L662.1 625.6 L642.4 616.3 L622.8 607.1 L603.3 598 L583.9 589.1 L564.6 580.3 L545.4 571.6 L526.2 563 M834.5 1168.4 L860.5 1132.7 L886.6 1097.9 L912.6 1064.1 L938.6 1031.2 L964.5 999.3 L990.5 968.4 L1016.4 938.5 L1042.3 909.6 L1068.2 881.6 L1094 854.6 L1119.8 828.6 L1145.5 803.7 L1171.2 779.7 L1196.9 756.7 L1222.5 734.6 L1248 713.6 L1273.4 693.6 L1298.8 674.6 L1324.1 656.5 L1349.4 639.5 L1374.6 623.4 L1399.6 608.4 L1424.6 594.3 L1449.6 581.2 L1474.4 569.1 L1499.1 557.9 L1523.7 547.8 L1548.2 538.6 L1572.6 530.4 L1597 523.1 L1621.1 516.9 L1645.2 511.5 L1669.2 507.2 L1693 503.7 L1716.7 501.2 L1740.3 499.7 L1763.8 499.1 L1787.1 499.4 M1365 934.5 L1342.7 920.7 L1320.4 907.1 L1298.3 893.6 L1276.2 880.3 L1254.2 867.2 L1232.3 854.2 L1210.5 841.3 L1188.7 828.6 L1167.1 816.1 L1145.5 803.7 L1124.1 791.4 L1102.7 779.3 L1081.4 767.4 L1060.1 755.6 L1039 743.9 L1017.9 732.4 L997 721.1 L976.1 709.9 L955.3 698.8 L934.6 687.9 L913.9 677.1 L893.4 666.5 L872.9 656 L852.5 645.7 L832.2 635.5 L812 625.4 L791.9 615.5 L771.8 605.7 L751.9 596 L732 586.5 L712.2 577.2 L692.5 567.9 L672.8 558.8 L653.3 549.9 L633.8 541 L614.4 532.3 L595.1 523.8 L575.8 515.4 M792.6 1142.4 L818.5 1106.8 L844.4 1072.2 L870.4 1038.5 L896.3 1005.8 L922.2 974.1 L948 943.3 L973.9 913.5 L999.7 884.7 L1025.5 856.9 L1051.3 830 L1077 804.2 L1102.7 779.3 L1128.3 755.4 L1153.9 732.6 L1179.4 710.7 L1204.9 689.8 L1230.3 669.8 L1255.6 650.9 L1280.9 633 L1306.1 616 L1331.2 600.1 L1356.3 585.1 L1381.2 571.1 L1406.1 558.1 L1430.9 546.1 L1455.6 535 L1480.2 524.9 L1504.7 515.8 L1529.1 507.7 L1553.4 500.5 L1577.6 494.3 L1601.6 489 L1625.6 484.7 L1649.4 481.3 L1673.1 478.9 L1696.7 477.4 L1720.2 476.8 L1743.5 477.2 M1417 886.3 L1394.6 872.6 L1372.2 859.1 L1350 845.8 L1327.9 832.6 L1305.8 819.6 L1283.9 806.7 L1262 793.9 L1240.2 781.4 L1218.5 768.9 L1196.9 756.7 L1175.3 744.5 L1153.9 732.6 L1132.5 720.7 L1111.2 709.1 L1090 697.5 L1068.9 686.1 L1047.9 674.9 L1026.9 663.8 L1006.1 652.9 L985.3 642.1 L964.6 631.4 L944 620.9 L923.5 610.5 L903 600.3 L882.7 590.2 L862.4 580.2 L842.2 570.4 L822.1 560.7 L802 551.2 L782.1 541.8 L762.2 532.5 L742.4 523.4 L722.7 514.4 L703.1 505.6 L683.6 496.8 L664.1 488.2 L644.7 479.8 L625.4 471.5 M751 1117.1 L776.8 1081.6 L802.7 1047.1 L828.5 1013.6 L854.3 981 L880.1 949.4 L905.9 918.8 L931.7 889.2 L957.5 860.5 L983.2 832.8 L1008.9 806.1 L1034.5 780.3 L1060.1 755.6 L1085.7 731.8 L1111.2 709.1 L1136.7 687.3 L1162.1 666.5 L1187.5 646.7 L1212.8 627.8 L1238 610 L1263.2 593.1 L1288.2 577.3 L1313.2 562.4 L1338.2 548.5 L1363 535.6 L1387.8 523.6 L1412.4 512.6 L1437 502.6 L1461.5 493.6 L1485.9 485.5 L1510.1 478.4 L1534.3 472.3 L1558.4 467.1 L1582.3 462.8 L1606.1 459.5 L1629.8 457.1 L1653.4 455.7 L1676.9 455.2 L1700.2 455.6 M1468.6 842.1 L1446.1 828.6 L1423.8 815.2 L1401.5 802 L1379.3 788.9 L1357.2 776 L1335.2 763.2 L1313.3 750.6 L1291.4 738.1 L1269.7 725.8 L1248 713.6 L1226.4 701.6 L1204.9 689.8 L1183.5 678 L1162.1 666.5 L1140.9 655 L1119.7 643.8 L1098.6 632.6 L1077.6 621.7 L1056.7 610.8 L1035.8 600.1 L1015.1 589.6 L994.4 579.1 L973.8 568.9 L953.3 558.7 L932.9 548.8 L912.6 538.9 L892.3 529.2 L872.2 519.6 L852.1 510.2 L832.1 500.9 L812.1 491.7 L792.3 482.7 L772.5 473.8 L752.8 465.1 L733.2 456.4 L713.7 447.9 L694.3 439.6 L674.9 431.4 M709.7 1092.3 L735.5 1057 L761.2 1022.7 L787 989.3 L812.7 956.9 L838.4 925.4 L864.2 894.9 L889.9 865.4 L915.5 836.8 L941.2 809.3 L966.8 782.7 L992.4 757.1 L1017.9 732.4 L1043.5 708.8 L1068.9 686.1 L1094.3 664.5 L1119.7 643.8 L1145 624.1 L1170.2 605.3 L1195.4 587.6 L1220.5 570.8 L1245.6 555.1 L1270.5 540.3 L1295.4 526.5 L1320.2 513.6 L1345 501.7 L1369.6 490.9 L1394.2 480.9 L1418.6 472 L1443 464 L1467.2 456.9 L1491.4 450.8 L1515.4 445.7 L1539.3 441.5 L1563.2 438.2 L1586.9 435.9 L1610.4 434.5 L1633.9 434 L1657.2 434.5 M1519.9 802 L1497.4 788.6 L1475 775.3 L1452.7 762.2 L1430.5 749.2 L1408.3 736.4 L1386.2 723.7 L1364.3 711.2 L1342.4 698.8 L1320.6 686.6 L1298.8 674.6 L1277.2 662.7 L1255.6 650.9 L1234.2 639.3 L1212.8 627.8 L1191.5 616.5 L1170.2 605.3 L1149.1 594.3 L1128.1 583.4 L1107.1 572.7 L1086.2 562.1 L1065.4 551.6 L1044.7 541.3 L1024 531.2 L1003.5 521.1 L983 511.2 L962.6 501.5 L942.3 491.9 L922.1 482.4 L901.9 473.1 L881.9 463.9 L861.9 454.8 L842 445.9 L822.2 437.1 L802.4 428.4 L782.8 419.9 L763.2 411.5 L743.7 403.2 L724.3 395.1 M668.8 1068.1 L694.4 1033 L720.1 998.8 L745.8 965.5 L771.4 933.3 L797.1 901.9 L822.7 871.6 L848.3 842.2 L874 813.8 L899.5 786.3 L925.1 759.9 L950.6 734.4 L976.1 709.9 L1001.5 686.4 L1026.9 663.8 L1052.3 642.2 L1077.6 621.7 L1102.9 602 L1128.1 583.4 L1153.2 565.8 L1178.3 549.1 L1203.3 533.4 L1228.2 518.7 L1253 505 L1277.8 492.2 L1302.5 480.5 L1327.1 469.6 L1351.6 459.8 L1376.1 450.9 L1400.4 443 L1424.6 436 L1448.8 429.9 L1472.8 424.9 L1496.7 420.7 L1520.5 417.5 L1544.2 415.2 L1567.8 413.9 L1591.2 413.5 L1614.6 414 M1570.9 765.9 L1548.4 752.6 L1525.9 739.4 L1503.6 726.4 L1481.3 713.5 L1459.1 700.8 L1437 688.2 L1415 675.8 L1393 663.6 L1371.2 651.5 L1349.4 639.5 L1327.7 627.7 L1306.1 616 L1284.6 604.5 L1263.2 593.1 L1241.8 581.9 L1220.5 570.8 L1199.4 559.9 L1178.3 549.1 L1157.2 538.5 L1136.3 528 L1115.5 517.6 L1094.7 507.4 L1074 497.3 L1053.4 487.4 L1032.9 477.6 L1012.4 467.9 L992.1 458.4 L971.8 449 L951.6 439.8 L931.5 430.7 L911.5 421.7 L891.5 412.8 L871.6 404.1 L851.9 395.5 L832.1 387.1 L812.5 378.8 L793 370.6 L773.5 362.6 M628.2 1044.5 L653.8 1009.5 L679.3 975.5 L704.9 942.4 L730.5 910.3 L756.1 879.1 L781.6 848.9 L807.2 819.6 L832.7 791.3 L858.2 764 L883.7 737.7 L909.2 712.3 L934.6 687.9 L960 664.5 L985.3 642.1 L1010.6 620.6 L1035.8 600.1 L1061 580.6 L1086.2 562.1 L1111.3 544.5 L1136.3 528 L1161.3 512.4 L1186.1 497.8 L1211 484.1 L1235.7 471.4 L1260.4 459.7 L1284.9 449 L1309.4 439.2 L1333.8 430.4 L1358.1 422.5 L1382.4 415.6 L1406.5 409.6 L1430.5 404.6 L1454.4 400.5 L1478.2 397.4 L1501.9 395.1 L1525.4 393.8 L1548.9 393.4 L1572.2 394 M1621.5 733.8 L1599 720.6 L1576.5 707.5 L1554.1 694.6 L1531.8 681.8 L1509.5 669.2 L1487.4 656.7 L1465.3 644.4 L1443.3 632.2 L1421.5 620.2 L1399.6 608.4 L1377.9 596.7 L1356.3 585.1 L1334.7 573.7 L1313.2 562.4 L1291.9 551.3 L1270.5 540.3 L1249.3 529.4 L1228.2 518.7 L1207.1 508.2 L1186.1 497.8 L1165.3 487.5 L1144.4 477.4 L1123.7 467.4 L1103.1 457.5 L1082.5 447.8 L1062 438.2 L1041.6 428.8 L1021.3 419.5 L1001.1 410.3 L980.9 401.3 L960.8 392.4 L940.8 383.6 L920.9 375 L901.1 366.5 L881.3 358.2 L861.6 349.9 L842.1 341.8 L822.5 333.8 M588 1021.6 L613.4 986.7 L638.9 952.8 L664.4 919.8 L689.9 887.8 L715.4 856.8 L740.9 826.7 L766.3 797.6 L791.8 769.4 L817.2 742.2 L842.7 716 L868 690.8 L893.4 666.5 L918.7 643.2 L944 620.9 L969.2 599.5 L994.4 579.1 L1019.6 559.7 L1044.7 541.3 L1069.7 523.9 L1094.7 507.4 L1119.6 491.9 L1144.4 477.4 L1169.2 463.8 L1193.9 451.2 L1218.5 439.6 L1243.1 428.9 L1267.6 419.2 L1291.9 410.4 L1316.2 402.6 L1340.4 395.8 L1364.5 389.9 L1388.5 384.9 L1412.4 380.9 L1436.2 377.7 L1459.9 375.6 L1483.4 374.3 L1506.9 374 L1530.2 374.5 M1671.8 705.7 L1649.2 692.6 L1626.6 679.6 L1604.2 666.8 L1581.9 654.1 L1559.6 641.6 L1537.4 629.2 L1515.3 617 L1493.3 604.9 L1471.4 593 L1449.6 581.2 L1427.8 569.6 L1406.1 558.1 L1384.5 546.8 L1363 535.6 L1341.6 524.5 L1320.2 513.6 L1299 502.9 L1277.8 492.2 L1256.7 481.8 L1235.7 471.4 L1214.8 461.3 L1193.9 451.2 L1173.2 441.3 L1152.5 431.5 L1131.9 421.9 L1111.3 412.4 L1090.9 403 L1070.5 393.8 L1050.3 384.7 L1030.1 375.8 L1009.9 366.9 L989.9 358.3 L970 349.7 L950.1 341.3 L930.3 333 L910.6 324.8 L890.9 316.8 L871.4 308.9 M548 999.1 L573.4 964.4 L598.8 930.7 L624.2 897.9 L649.6 866 L675.1 835.1 L700.5 805.1 L725.9 776.1 L751.2 748.1 L776.6 721.1 L801.9 695 L827.3 669.8 L852.5 645.7 L877.8 622.5 L903 600.3 L928.2 579 L953.3 558.7 L978.4 539.5 L1003.5 521.1 L1028.5 503.8 L1053.4 487.4 L1078.3 472 L1103.1 457.5 L1127.8 444 L1152.5 431.5 L1177.1 420 L1201.6 409.4 L1226 399.7 L1250.4 391 L1274.6 383.3 L1298.8 376.5 L1322.9 370.6 L1346.8 365.7 L1370.7 361.7 L1394.5 358.7 L1418.2 356.6 L1441.7 355.3 L1465.2 355 L1488.5 355.7 M1721.6 681.6 L1698.9 668.5 L1676.4 655.7 L1653.9 642.9 L1631.6 630.3 L1609.3 617.9 L1587.1 605.6 L1565 593.5 L1542.9 581.5 L1521 569.6 L1499.1 557.9 L1477.3 546.4 L1455.6 535 L1434 523.7 L1412.4 512.6 L1391 501.7 L1369.6 490.9 L1348.3 480.2 L1327.1 469.6 L1306 459.2 L1284.9 449 L1264 438.9 L1243.1 428.9 L1222.3 419.1 L1201.6 409.4 L1180.9 399.8 L1160.4 390.4 L1139.9 381.1 L1119.5 371.9 L1099.2 362.9 L1079 354 L1058.8 345.3 L1038.7 336.7 L1018.7 328.2 L998.8 319.8 L979 311.6 L959.2 303.5 L939.6 295.6 L920 287.7 M508.5 977.3 L533.8 942.7 L559.1 909.1 L584.4 876.4 L609.7 844.7 L635.1 814 L660.4 784.1 L685.7 755.3 L711 727.4 L736.3 700.4 L761.6 674.5 L786.8 649.4 L812 625.4 L837.2 602.3 L862.4 580.2 L887.5 559.1 L912.6 538.9 L937.6 519.7 L962.6 501.5 L987.6 484.2 L1012.4 467.9 L1037.3 452.6 L1062 438.2 L1086.7 424.8 L1111.3 412.4 L1135.9 400.9 L1160.4 390.4 L1184.8 380.8 L1209.1 372.2 L1233.3 364.5 L1257.5 357.8 L1281.5 352 L1305.5 347.1 L1329.4 343.2 L1353.1 340.2 L1376.8 338.1 L1400.3 336.9 L1423.8 336.7 L1447.1 337.3 M1770.9 661.4 L1748.3 648.5 L1725.7 635.7 L1703.2 623 L1680.8 610.5 L1658.5 598.2 L1636.3 586 L1614.2 573.9 L1592.1 562 L1570.1 550.2 L1548.2 538.6 L1526.4 527.1 L1504.7 515.8 L1483 504.6 L1461.5 493.6 L1440 482.7 L1418.6 472 L1397.3 461.4 L1376.1 450.9 L1354.9 440.6 L1333.8 430.4 L1312.8 420.3 L1291.9 410.4 L1271.1 400.7 L1250.4 391 L1229.7 381.5 L1209.1 372.2 L1188.6 363 L1168.2 353.9 L1147.8 344.9 L1127.6 336.1 L1107.4 327.4 L1087.3 318.9 L1067.2 310.4 L1047.3 302.1 L1027.4 294 L1007.6 286 L987.9 278.1 L968.3 270.3 M469.2 956 L494.4 921.6 L519.7 888.1 L544.9 855.6 L570.1 824 L595.4 793.4 L620.6 763.7 L645.9 735 L671.1 707.2 L696.3 680.4 L721.5 654.5 L746.7 629.6 L771.8 605.7 L797 582.7 L822.1 560.7 L847.1 539.7 L872.2 519.6 L897.1 500.5 L922.1 482.4 L947 465.2 L971.8 449 L996.6 433.8 L1021.3 419.5 L1046 406.2 L1070.5 393.8 L1095.1 382.4 L1119.5 371.9 L1143.9 362.4 L1168.2 353.9 L1192.4 346.3 L1216.5 339.6 L1240.5 333.8 L1264.5 329 L1288.3 325.1 L1312.1 322.2 L1335.7 320.1 L1359.3 319 L1382.7 318.8 L1406 319.5 M1819.8 645.2 L1797.1 632.4 L1774.5 619.6 L1752.1 607 L1729.6 594.6 L1707.3 582.3 L1685.1 570.2 L1662.9 558.2 L1640.9 546.4 L1618.9 534.7 L1597 523.1 L1575.1 511.7 L1553.4 500.5 L1531.7 489.4 L1510.1 478.4 L1488.6 467.6 L1467.2 456.9 L1445.9 446.4 L1424.6 436 L1403.4 425.7 L1382.4 415.6 L1361.3 405.6 L1340.4 395.8 L1319.6 386.1 L1298.8 376.5 L1278.1 367.1 L1257.5 357.8 L1237 348.6 L1216.5 339.6 L1196.1 330.7 L1175.8 321.9 L1155.6 313.3 L1135.5 304.8 L1115.4 296.4 L1095.5 288.2 L1075.6 280.1 L1055.8 272.1 L1036 264.3 L1016.4 256.6 M430.3 935.3 L455.4 901 L480.6 867.7 L505.7 835.3 L530.9 803.9 L556 773.4 L581.2 743.8 L606.4 715.2 L631.5 687.6 L656.7 660.9 L681.8 635.1 L706.9 610.4 L732 586.5 L757.1 563.7 L782.1 541.8 L807.1 520.9 L832.1 500.9 L857 481.9 L881.9 463.9 L906.7 446.8 L931.5 430.7 L956.2 415.5 L980.9 401.3 L1005.5 388.1 L1030.1 375.8 L1054.6 364.4 L1079 354 L1103.3 344.6 L1127.6 336.1 L1151.7 328.5 L1175.8 321.9 L1199.9 316.2 L1223.8 311.5 L1247.6 307.6 L1271.3 304.7 L1295 302.7 L1318.5 301.6 L1341.9 301.5 L1365.3 302.2 M1868.1 632.9 L1845.5 620.1 L1822.9 607.5 L1800.4 595 L1778 582.6 L1755.6 570.4 L1733.4 558.3 L1711.2 546.4 L1689.1 534.6 L1667.1 523 L1645.2 511.5 L1623.4 500.2 L1601.6 489 L1579.9 478 L1558.4 467.1 L1536.8 456.3 L1515.4 445.7 L1494.1 435.2 L1472.8 424.9 L1451.6 414.7 L1430.5 404.6 L1409.4 394.7 L1388.5 384.9 L1367.6 375.2 L1346.8 365.7 L1326.1 356.3 L1305.5 347.1 L1284.9 338 L1264.5 329 L1244.1 320.2 L1223.8 311.5 L1203.5 302.9 L1183.4 294.5 L1163.3 286.1 L1143.3 278 L1123.4 269.9 L1103.5 262 L1083.8 254.2 L1064.1 246.5 M391.7 915.1 L416.7 881 L441.8 847.8 L466.9 815.6 L491.9 784.3 L517 753.9 L542.1 724.5 L567.2 696 L592.3 668.5 L617.3 641.9 L642.4 616.3 L667.4 591.6 L692.5 567.9 L717.5 545.2 L742.4 523.4 L767.4 502.6 L792.3 482.7 L817.2 463.8 L842 445.9 L866.8 428.9 L891.5 412.8 L916.2 397.8 L940.8 383.6 L965.4 370.5 L989.9 358.3 L1014.4 347 L1038.7 336.7 L1063 327.3 L1087.3 318.9 L1111.4 311.4 L1135.5 304.8 L1159.5 299.2 L1183.4 294.5 L1207.2 290.7 L1230.9 287.8 L1254.5 285.8 L1278.1 284.8 L1301.5 284.6 L1324.8 285.4 M1916 624.5 L1893.3 611.8 L1870.7 599.2 L1848.2 586.7 L1825.8 574.4 L1803.5 562.3 L1781.2 550.3 L1759 538.4 L1737 526.7 L1714.9 515.1 L1693 503.7 L1671.2 492.5 L1649.4 481.3 L1627.7 470.3 L1606.1 459.5 L1584.6 448.8 L1563.2 438.2 L1541.8 427.8 L1520.5 417.5 L1499.3 407.4 L1478.2 397.4 L1457.1 387.5 L1436.2 377.7 L1415.3 368.2 L1394.5 358.7 L1373.8 349.4 L1353.1 340.2 L1332.6 331.1 L1312.1 322.2 L1291.7 313.4 L1271.3 304.7 L1251.1 296.2 L1230.9 287.8 L1210.8 279.5 L1190.8 271.4 L1170.9 263.4 L1151 255.5 L1131.2 247.7 L1111.5 240.1 M353.5 895.5 L378.4 861.6 L403.4 828.5 L428.3 796.4 L453.3 765.2 L478.3 735 L503.3 705.7 L528.3 677.4 L553.4 650 L578.3 623.5 L603.3 598 L628.3 573.5 L653.3 549.9 L678.2 527.2 L703.1 505.6 L728 484.8 L752.8 465.1 L777.7 446.2 L802.4 428.4 L827.2 411.5 L851.9 395.5 L876.5 380.6 L901.1 366.5 L925.6 353.4 L950.1 341.3 L974.5 330.1 L998.8 319.8 L1023.1 310.5 L1047.3 302.1 L1071.4 294.7 L1095.5 288.2 L1119.4 282.6 L1143.3 278 L1167.1 274.2 L1190.8 271.4 L1214.4 269.5 L1237.9 268.4 L1261.3 268.3 L1284.6 269.1 M1963.3 619.9 L1940.6 607.2 L1918 594.7 L1895.5 582.3 L1873.1 570.1 L1850.8 558 L1828.5 546 L1806.4 534.2 L1784.3 522.6 L1762.3 511.1 L1740.3 499.7 L1718.5 488.5 L1696.7 477.4 L1675 466.5 L1653.4 455.7 L1631.9 445 L1610.4 434.5 L1589.1 424.1 L1567.8 413.9 L1546.6 403.8 L1525.4 393.8 L1504.4 384 L1483.4 374.3 L1462.5 364.8 L1441.7 355.3 L1421 346.1 L1400.3 336.9 L1379.8 327.9 L1359.3 319 L1338.8 310.3 L1318.5 301.6 L1298.2 293.1 L1278.1 284.8 L1257.9 276.6 L1237.9 268.4 L1218 260.5 L1198.1 252.6 L1178.3 244.9 L1158.6 237.3 M315.5 876.5 L340.4 842.7 L365.3 809.8 L390.2 777.8 L415.1 746.7 L440 716.6 L464.9 687.5 L489.8 659.3 L514.8 632 L539.7 605.6 L564.6 580.3 L589.5 555.8 L614.4 532.3 L639.3 509.8 L664.1 488.2 L688.9 467.6 L713.7 447.9 L738.5 429.2 L763.2 411.5 L787.9 394.7 L812.5 378.8 L837.1 363.9 L861.6 349.9 L886.1 336.9 L910.6 324.8 L934.9 313.7 L959.2 303.5 L983.5 294.3 L1007.6 286 L1031.7 278.6 L1055.8 272.1 L1079.7 266.6 L1103.5 262 L1127.3 258.3 L1151 255.5 L1174.6 253.6 L1198.1 252.6 L1221.5 252.5 L1244.8 253.3" fill="none" stroke="#140400" stroke-width="4.1" stroke-linejoin="round"/>
<polygon points="1049.4,1307.6 1066.5,1284 1083.5,1260.8 1100.6,1237.9 1117.6,1215.5 1134.6,1193.5 1151.6,1171.9 1168.6,1150.7 1185.6,1129.9 1202.6,1109.5 1219.5,1089.6 1236.4,1070 1253.4,1050.9 1270.3,1032.2 1287.1,1013.9 1304,996 1320.8,978.5 1337.6,961.4 1354.4,944.8 1371.2,928.6 1387.9,912.8 1404.7,897.4 1421.3,882.4 1438,867.8 1454.6,853.7 1471.2,840 1487.8,826.7 1504.3,813.8 1520.8,801.3 1537.2,789.3 1553.7,777.7 1570,766.5 1586.4,755.7 1602.7,745.3 1619,735.3 1635.2,725.8 1651.4,716.6 1667.5,707.9 1683.6,699.6 1699.7,691.7 1715.7,684.2 1731.6,677.2 1747.5,670.5 1763.4,664.3 1779.2,658.4 1795,653 1810.7,648 1826.4,643.3 1842,639.1 1857.5,635.3 1873,631.9 1888.5,628.9 1903.9,626.3 1919.2,624.1 1934.5,622.2 1949.7,620.8 1964.8,619.8 1980,619.2 1995,618.9 2010,619.1 2010,619.1 1995.4,610.9 1980.8,602.8 1966.3,594.8 1951.8,586.8 1937.3,578.9 1922.9,571.1 1908.5,563.3 1894.1,555.6 1879.8,547.9 1865.5,540.3 1851.3,532.8 1837,525.3 1822.8,517.9 1808.7,510.5 1794.5,503.2 1780.4,496 1766.4,488.8 1752.4,481.7 1738.4,474.6 1724.4,467.6 1710.5,460.6 1696.6,453.7 1682.7,446.9 1668.9,440.1 1655.1,433.4 1641.3,426.8 1627.6,420.2 1613.9,413.6 1600.2,407.1 1586.6,400.7 1573,394.3 1559.4,388 1545.9,381.7 1532.4,375.5 1518.9,369.4 1505.4,363.3 1492,357.2 1478.7,351.3 1465.3,345.3 1452,339.4 1438.7,333.6 1425.5,327.9 1412.3,322.2 1399.1,316.5 1386,310.9 1372.8,305.4 1359.8,299.9 1346.7,294.4 1333.7,289 1320.7,283.7 1307.7,278.4 1294.8,273.2 1281.9,268 1269.1,262.9 1256.2,257.8 1243.4,252.8 1230.7,247.9 1217.9,242.9 1205.2,238.1 1205.2,238.1 1190.3,237.4 1175.2,237.2 1160.2,237.3 1145.1,237.7 1129.9,238.6 1114.7,239.8 1099.5,241.4 1084.2,243.3 1068.9,245.7 1053.6,248.4 1038.2,251.5 1022.8,255 1007.4,258.8 992,263.1 976.5,267.7 960.9,272.7 945.4,278.1 929.8,283.9 914.2,290 898.6,296.6 882.9,303.5 867.2,310.9 851.5,318.6 835.8,326.7 820.1,335.2 804.3,344.1 788.5,353.4 772.7,363.1 756.8,373.2 741,383.6 725.1,394.5 709.2,405.7 693.3,417.4 677.4,429.4 661.5,441.9 645.6,454.7 629.6,467.9 613.7,481.5 597.7,495.5 581.7,509.9 565.7,524.7 549.8,539.9 533.8,555.5 517.8,571.5 501.8,587.9 485.8,604.6 469.8,621.8 453.7,639.3 437.7,657.3 421.7,675.6 405.7,694.3 389.7,713.4 373.7,732.9 357.8,752.8 341.8,773.1 325.8,793.7 309.8,814.8 293.9,836.2 277.9,858 277.9,858 290,863.9 302.1,869.8 314.2,875.8 326.4,881.9 338.6,888 350.9,894.2 363.2,900.5 375.5,906.8 387.8,913.1 400.2,919.5 412.6,926 425,932.5 437.5,939.1 450,945.8 462.6,952.5 475.2,959.2 487.8,966 500.5,972.9 513.1,979.9 525.9,986.8 538.6,993.9 551.4,1001 564.2,1008.2 577.1,1015.4 590,1022.7 602.9,1030.1 615.9,1037.5 628.9,1044.9 641.9,1052.5 655,1060.1 668.1,1067.7 681.2,1075.4 694.4,1083.2 707.6,1091.1 720.9,1099 734.1,1106.9 747.5,1115 760.8,1123 774.2,1131.2 787.6,1139.4 801.1,1147.7 814.6,1156 828.1,1164.4 841.7,1172.9 855.3,1181.4 868.9,1190 882.6,1198.7 896.3,1207.4 910,1216.2 923.8,1225 937.6,1233.9 951.5,1242.9 965.4,1252 979.3,1261.1 993.2,1270.3 1007.2,1279.5 1021.3,1288.8 1035.3,1298.2 1049.4,1307.6" fill="none" stroke="#0a0a00" stroke-width="4.8" stroke-linejoin="miter"/>
<line x1="1116" y1="206" x2="1116" y2="240" stroke="#0000e0" stroke-width="3.5" stroke-dasharray="8 4"/><circle cx="1116" cy="206" r="9.5" fill="#0000f0"/>
<line x1="1307" y1="295" x2="1307" y2="320" stroke="#0000e0" stroke-width="3.5" stroke-dasharray="8 4"/><circle cx="1307" cy="295" r="9.5" fill="#0000f0"/>
<line x1="1506" y1="309" x2="1506" y2="409" stroke="#0000e0" stroke-width="3.5" stroke-dasharray="8 4"/><circle cx="1506" cy="309" r="9.5" fill="#0000f0"/>
<circle cx="1711" cy="457" r="9.5" fill="#0000f0"/><circle cx="1711" cy="479" r="9.5" fill="#0000f0"/><circle cx="1711" cy="503" r="9.5" fill="#0000f0"/>
<line x1="1921" y1="621" x2="1921" y2="677" stroke="#0000e0" stroke-width="3.5" stroke-dasharray="8 4"/><circle cx="1921" cy="621" r="9.5" fill="#0000f0"/><circle cx="1921" cy="673" r="9.5" fill="#0000f0"/><circle cx="1921" cy="681" r="9.5" fill="#0000f0"/>
<line x1="341" y1="710" x2="341" y2="790" stroke="#0000e0" stroke-width="3.5" stroke-dasharray="8 4"/><circle cx="341" cy="710" r="9.5" fill="#0000f0"/><circle cx="341" cy="737" r="9.5" fill="#0000f0"/>
<circle cx="539" cy="500" r="9.5" fill="#0000f0"/><circle cx="539" cy="530" r="9.5" fill="#0000f0"/><circle cx="539" cy="542" r="9.5" fill="#0000f0"/>
<circle cx="727" cy="631" r="9.5" fill="#0000f0"/>
<circle cx="919" cy="725" r="9.5" fill="#0000f0"/>
<line x1="1119" y1="783" x2="1119" y2="836" stroke="#0000e0" stroke-width="3.5" stroke-dasharray="8 4"/><circle cx="1119" cy="783" r="9.5" fill="#0000f0"/><circle cx="1119" cy="836" r="9.5" fill="#0000f0"/>
<line x1="1327" y1="894" x2="1327" y2="1013" stroke="#0000e0" stroke-width="3.5" stroke-dasharray="8 4"/><circle cx="1327" cy="894" r="9.5" fill="#0000f0"/><circle cx="1327" cy="1009" r="9.5" fill="#0000f0"/><circle cx="1327" cy="1017" r="9.5" fill="#0000f0"/>
<circle cx="525" cy="855" r="9.5" fill="#0000f0"/>
<line x1="715" y1="926" x2="715" y2="967" stroke="#0000e0" stroke-width="3.5" stroke-dasharray="8 4"/><circle cx="715" cy="926" r="9.5" fill="#0000f0"/><circle cx="715" cy="967" r="9.5" fill="#0000f0"/>
<line x1="913" y1="1047" x2="913" y2="1078" stroke="#0000e0" stroke-width="3.5" stroke-dasharray="8 4"/><circle cx="913" cy="1047" r="9.5" fill="#0000f0"/><circle cx="913" cy="1078" r="9.5" fill="#0000f0"/>
<line x1="1117" y1="1186" x2="1117" y2="1235" stroke="#0000e0" stroke-width="3.5" stroke-dasharray="8 4"/><circle cx="1117" cy="1186" r="9.5" fill="#0000f0"/><circle cx="1117" cy="1228" r="9.5" fill="#0000f0"/><circle cx="1117" cy="1235" r="9.5" fill="#0000f0"/>
<polyline points="256.1,387.1 303.3,1406.5 1052.1,1959.6 1968,1492.6" fill="none" stroke="#000" stroke-width="4" stroke-linejoin="miter"/>
<rect x="1551.3" y="1095.5" width="97.4" height="57" fill="#990000"/>
<text x="1675" y="1133.8" font-size="50" fill="#111">&gt; 8</text>
<rect x="1551.3" y="1169.5" width="97.4" height="57" fill="#c00000"/>
<text x="1675" y="1207.8" font-size="50" fill="#111">&lt; 8</text>
<rect x="1551.3" y="1243.5" width="97.4" height="57" fill="#ffa500"/>
<text x="1675" y="1281.8" font-size="50" fill="#111">&lt; 7</text>
<rect x="1551.3" y="1317.5" width="97.4" height="57" fill="#00e600"/>
<text x="1675" y="1355.8" font-size="50" fill="#111">&lt; 6</text>
<rect x="1551.3" y="1391.5" width="97.4" height="57" fill="#005c3d"/>
<text x="1675" y="1429.8" font-size="50" fill="#111">&lt; 5</text>
<text transform="matrix(0.9132 -0.4075 0.0462 0.9989 247 1332.9)" x="0" y="14" font-size="39" text-anchor="middle">1</text>
<text transform="matrix(0.9155 -0.4023 0.0462 0.9989 241.9 1223.8)" x="0" y="14" font-size="39" text-anchor="middle">2</text>
<text transform="matrix(0.9178 -0.3970 0.0462 0.9989 236.8 1113.4)" x="0" y="14" font-size="39" text-anchor="middle">3</text>
<text transform="matrix(0.9201 -0.3916 0.0462 0.9989 231.6 1001.6)" x="0" y="14" font-size="39" text-anchor="middle">4</text>
<text transform="matrix(0.9224 -0.3862 0.0462 0.9989 226.4 888.4)" x="0" y="14" font-size="39" text-anchor="middle">5</text>
<text transform="matrix(0.9248 -0.3806 0.0462 0.9989 221.1 773.8)" x="0" y="14" font-size="39" text-anchor="middle">6</text>
<text transform="matrix(0.9271 -0.3749 0.0462 0.9989 215.7 657.8)" x="0" y="14" font-size="39" text-anchor="middle">7</text>
<text transform="matrix(0.9294 -0.3690 0.0462 0.9989 210.3 540.3)" x="0" y="14" font-size="39" text-anchor="middle">8</text>
<text transform="matrix(0.9317 -0.3631 0.0462 0.9989 204.8 421.2)" x="0" y="14" font-size="39" text-anchor="middle">9</text>
<text transform="matrix(0.8909 -0.4542 0.7239 0.5347 992.1 1999.6)" x="0" y="13.8" font-size="38.5" text-anchor="middle">0.0</text>
<text transform="matrix(0.8932 -0.4497 0.7239 0.5347 912.4 1940.8)" x="0" y="13.8" font-size="38.5" text-anchor="middle">0.2</text>
<text transform="matrix(0.8954 -0.4453 0.7239 0.5347 833.8 1882.7)" x="0" y="13.8" font-size="38.5" text-anchor="middle">0.4</text>
<text transform="matrix(0.8975 -0.4410 0.7239 0.5347 756.3 1825.5)" x="0" y="13.8" font-size="38.5" text-anchor="middle">0.6</text>
<text transform="matrix(0.8996 -0.4367 0.7239 0.5347 680 1769.1)" x="0" y="13.8" font-size="38.5" text-anchor="middle">0.8</text>
<text transform="matrix(0.9016 -0.4325 0.7239 0.5347 604.7 1713.4)" x="0" y="13.8" font-size="38.5" text-anchor="middle">1.0</text>
<text transform="matrix(0.9036 -0.4284 0.7239 0.5347 530.4 1658.6)" x="0" y="13.8" font-size="38.5" text-anchor="middle">1.2</text>
<text transform="matrix(0.9055 -0.4244 0.7239 0.5347 457.1 1604.5)" x="0" y="13.8" font-size="38.5" text-anchor="middle">1.4</text>
<text transform="matrix(0.9074 -0.4204 0.7239 0.5347 384.9 1551.1)" x="0" y="13.8" font-size="38.5" text-anchor="middle">1.6</text>
<text transform="matrix(0.9092 -0.4164 0.7239 0.5347 313.6 1498.5)" x="0" y="13.8" font-size="38.5" text-anchor="middle">1.8</text>
<text transform="matrix(0.9109 -0.4126 0.7239 0.5347 243.3 1446.5)" x="0" y="13.8" font-size="38.5" text-anchor="middle">2.0</text>
<text transform="matrix(0.8043 0.5942 -0.9354 0.4769 1087.5 1995.3)" x="0" y="13.8" font-size="38.5" text-anchor="middle">0</text>
<text transform="matrix(0.8085 0.5885 -0.9354 0.4769 1192.8 1952.4)" x="0" y="13.8" font-size="38.5" text-anchor="middle">10</text>
<text transform="matrix(0.8125 0.5829 -0.9354 0.4769 1288.3 1903.7)" x="0" y="13.8" font-size="38.5" text-anchor="middle">20</text>
<text transform="matrix(0.8164 0.5775 -0.9354 0.4769 1382.6 1855.6)" x="0" y="13.8" font-size="38.5" text-anchor="middle">30</text>
<text transform="matrix(0.8202 0.5721 -0.9354 0.4769 1475.8 1808.1)" x="0" y="13.8" font-size="38.5" text-anchor="middle">40</text>
<text transform="matrix(0.8239 0.5667 -0.9354 0.4769 1567.9 1761.1)" x="0" y="13.8" font-size="38.5" text-anchor="middle">50</text>
<text transform="matrix(0.8275 0.5615 -0.9354 0.4769 1658.8 1714.7)" x="0" y="13.8" font-size="38.5" text-anchor="middle">60</text>
<text transform="matrix(0.8310 0.5563 -0.9354 0.4769 1748.7 1668.9)" x="0" y="13.8" font-size="38.5" text-anchor="middle">70</text>
<text transform="matrix(0.8344 0.5512 -0.9354 0.4769 1837.5 1623.6)" x="0" y="13.8" font-size="38.5" text-anchor="middle">80</text>
<text transform="matrix(0.8377 0.5462 -0.9354 0.4769 1925.3 1578.9)" x="0" y="13.8" font-size="38.5" text-anchor="middle">90</text>
<text transform="matrix(0.8409 0.5412 -0.9354 0.4769 2021 1540.4)" x="0" y="13.8" font-size="38.5" text-anchor="middle">100</text>
<text transform="matrix(0.6837 0.5050 -1.1541 0.5536 475 1756)" x="0" y="16.5" font-size="46" text-anchor="middle" font-weight="bold">Participation</text>
<text transform="matrix(0.8196 -0.4179 1.0381 0.7141 1676 1833)" x="0" y="16.5" font-size="46" text-anchor="middle" font-weight="bold">Age, days</text>
<text transform="matrix(0.0430 0.9290 -1.2529 0.5289 131 955)" x="0" y="16.5" font-size="46" text-anchor="middle" font-weight="bold">Flexural strength, MPa</text>
</g>
<g id="chart-b">
<path d="M998.5 4172.6L250.7 3614.4 M998.5 4172.6L1915.6 3700.3 M250.7 3614.4L201.4 2585.2 M1915.6 3700.3L1966.8 2664.5 M1095.3 4122.7L345.3 3571.2 M918.8 4113.1L1834.3 3647.5 M345.3 3571.2L301.9 2545.7 M1834.3 3647.5L1880.1 2616.2 M1190.9 4073.5L438.7 3528.4 M840.2 4054.4L1754 3595.5 M438.7 3528.4L401.1 2506.7 M1754 3595.5L1794.7 2568.5 M1285.4 4024.8L531.1 3486.2 M762.8 3996.7L1674.8 3544.1 M531.1 3486.2L499.2 2468.1 M1674.8 3544.1L1710.5 2521.5 M1378.7 3976.8L622.4 3444.4 M686.5 3939.7L1596.7 3493.5 M622.4 3444.4L596 2430 M1596.7 3493.5L1627.6 2475.2 M1470.9 3929.3L712.7 3403.1 M611.3 3883.6L1519.6 3443.5 M712.7 3403.1L691.7 2392.3 M1519.6 3443.5L1545.8 2429.5 M1562 3882.4L802 3362.3 M537.1 3828.2L1443.6 3394.2 M802 3362.3L786.3 2355.1 M1443.6 3394.2L1465.1 2384.5 M1652 3836.1L890.3 3321.9 M464 3773.6L1368.6 3345.6 M890.3 3321.9L879.8 2318.4 M1368.6 3345.6L1385.6 2340.1 M1740.9 3790.3L977.6 3281.9 M391.9 3719.8L1294.5 3297.5 M977.6 3281.9L972.1 2282 M1294.5 3297.5L1307.2 2296.4 M1828.8 3745L1063.9 3242.5 M320.8 3666.7L1221.4 3250.2 M1063.9 3242.5L1063.4 2246.1 M1221.4 3250.2L1229.9 2253.2 M1915.6 3700.3L1149.3 3203.4 M250.7 3614.4L1149.3 3203.4 M1149.3 3203.4L1153.6 2210.6 M1149.3 3203.4L1153.6 2210.6 M242.9 3451L1150 3045.4 M1150 3045.4L1923.8 3536 M234.9 3284.5L1150.7 2884.5 M1150.7 2884.5L1932 3368.5 M226.8 3114.8L1151.4 2720.7 M1151.4 2720.7L1940.5 3197.7 M218.5 2941.7L1152.2 2553.8 M1152.2 2553.8L1949.1 3023.5 M210 2765.3L1152.9 2383.8 M1152.9 2383.8L1957.8 2845.8 M201.4 2585.2L1153.6 2210.6 M1153.6 2210.6L1966.8 2664.5" fill="none" stroke="#d3d3d3" stroke-width="3.3" stroke-linecap="round"/>
<path d="M250.7 3614.4L268 3606.5 M242.9 3451L260.2 3443.3 M234.9 3284.5L252.3 3276.9 M226.8 3114.8L244.3 3107.4 M218.5 2941.7L236 2934.5 M210 2765.3L227.6 2758.1 M201.4 2585.2L219.1 2578.3 M1915.6 3700.3L1903.1 3692.1 M918.8 4113.1L933.9 4105.4 M1828.8 3745L1816.3 3736.8 M840.2 4054.4L855.4 4046.8 M1740.9 3790.3L1728.4 3782 M762.8 3996.7L778 3989.1 M1652 3836.1L1639.6 3827.7 M686.5 3939.7L701.8 3932.2 M1562 3882.4L1549.6 3873.9 M611.3 3883.6L626.6 3876.1 M1470.9 3929.3L1458.6 3920.8 M537.1 3828.2L552.5 3820.9 M1378.7 3976.8L1366.5 3968.1 M464 3773.6L479.4 3766.4 M1285.4 4024.8L1273.2 4016.1 M391.9 3719.8L407.3 3712.6 M1190.9 4073.5L1178.8 4064.7 M320.8 3666.7L336.3 3659.6 M1095.3 4122.7L1083.2 4113.8" fill="none" stroke="#000" stroke-width="3"/>
<polygon points="1529.3,2673.9 1481.6,2647.1 1433.4,2621.8 1386.4,2599.1 1339.1,2578.1 1292.8,2559.4 1245.3,2542.3 1197,2526.9 1152.3,2514.4 1123.2,2519.9 1095.3,2526 1066.4,2533.4 1036.2,2542.3 1006.8,2552 977.7,2562.6 946.8,2575 917.8,2587.7 888.4,2601.6 858.3,2616.9 829.5,2632.6 799.6,2649.9 770.7,2667.6 740.3,2687.3 710.8,2707.5 682.2,2728 654.6,2748.7 625.4,2771.6 597.5,2794.4 567.8,2819.7 513.4,2868.7 455.9,2924.1 400.1,2981.7 342.4,3045.1 283,3114.3 229.9,3179.8 274.8,3196.5 317.2,3214.1 363.4,3235.2 407.6,3257.4 453.1,3282.1 497.5,3308.1 541.4,3335.6 587.7,3366.4 637.2,3401.4 687.9,3439.4 737.7,3478.9 790.1,3522.5 839.4,3565.8 892.1,3614.1 945.4,3665.3 996.4,3716.3 1056.8,3641.1 1118.3,3568.5 1178.2,3501.4 1208.2,3469.4 1240.9,3435.4 1300.4,3376.6 1331.4,3347.4 1360.5,3321 1391.3,3294 1420.3,3269.5 1450.7,3244.8 1482.2,3220.4 1512,3198.2 1542.9,3176.3 1572.3,3156.5 1602.8,3136.9 1632.2,3119 1660.7,3102.7 1690.6,3086.5 1719.9,3071.7 1748.9,3058.1 1777.8,3045.5 1806.7,3033.8 1836,3023.1 1865.8,3013.3 1894.1,3005 1923.3,2997.4 1950.7,2991.4 1899.3,2945.1 1844.8,2898.4 1791.4,2854.8 1739.8,2814.8 1687.8,2776.7 1635.1,2740.3 1582.5,2706.1 1530.1,2674.4" fill="#005c3d"/>
<polygon points="1529.3,2673.9 1481.6,2647.1 1433.4,2621.8 1386.4,2599.1 1339.1,2578.1 1292.8,2559.4 1245.3,2542.3 1197,2526.9 1152.3,2514.4 1123.2,2519.9 1095.3,2526 1066.4,2533.4 1036.2,2542.3 1006.8,2552 977.7,2562.6 946.8,2575 917.8,2587.7 888.4,2601.6 858.3,2616.9 829.5,2632.6 799.6,2649.9 770.7,2667.6 740.3,2687.3 710.8,2707.5 682.2,2728 628.4,2769.2 574.5,2813.9 521,2861.6 468.9,2911.3 438.1,2942.1 409.9,2971.3 353.4,3032.6 319.5,3071.3 283,3114.3 270.2,3129.8 269.6,3133.6 284,3157.5 299.6,3180.9 319.7,3208.4 326.7,3217.4 329,3219.3 360.6,3233.9 394,3250.4 426.5,3267.5 458.4,3285.1 489.7,3303.4 523.3,3324.1 554.2,3343.9 587.7,3366.4 626.7,3393.8 663.7,3421 701.5,3450 740.6,3481.2 778.2,3512.4 817.4,3546.3 855.4,3580.3 895.5,3617.3 961.2,3644.1 1031,3669.8 1036.9,3665.5 1094.6,3596.1 1151.9,3530.5 1213,3464.3 1271.6,3404.6 1331.4,3347.4 1388,3296.8 1444.8,3249.6 1473.8,3226.8 1501.4,3206 1530.2,3185.2 1560.2,3164.5 1588.9,3145.7 1616.5,3128.4 1645.4,3111.3 1673.6,3095.6 1701.1,3081.1 1728.2,3067.7 1757.1,3054.4 1784,3042.9 1813,3031.4 1840.2,3021.6 1867.9,3012.6 1896.3,3004.3 1923.3,2997.4 1950.7,2991.4 1899.3,2945.1 1844.8,2898.4 1791.4,2854.8 1739.8,2814.8 1687.8,2776.7 1635.1,2740.3 1582.5,2706.1 1530.1,2674.4" fill="#008a10"/>
<polygon points="1529.3,2673.9 1481.6,2647.1 1433.4,2621.8 1386.4,2599.1 1339.1,2578.1 1292.8,2559.4 1245.3,2542.3 1197,2526.9 1152.3,2514.4 1123.2,2519.9 1095.3,2526 1066.4,2533.4 1036.2,2542.3 1006.8,2552 977.7,2562.6 946.8,2575 917.8,2587.7 888.4,2601.6 858.3,2616.9 829.5,2632.6 799.6,2649.9 770.7,2667.6 740.3,2687.3 710.8,2707.5 682.2,2728 637.3,2762.1 591.1,2799.8 543.2,2841.4 497.7,2883.4 451.5,2928.5 405.1,2976.4 358.8,3026.6 314.1,3077.8 324.4,3096.1 336.9,3116.3 348.6,3134.1 362.7,3153.7 377.5,3173 393,3192 409.3,3210.6 426.3,3229 443.9,3247.2 464.4,3267 505.5,3303.9 530.8,3324.8 557,3345.3 587.7,3366.4 645.1,3407.2 687.5,3433.6 720.1,3452.8 750.9,3469.9 782.8,3486.9 815.9,3503.6 850.3,3520.1 882.4,3534.8 949.9,3563.4 989.5,3578.8 1027.5,3592.8 1077.7,3610 1082.3,3610.6 1135.3,3549 1193.4,3485 1249.8,3426.3 1304.4,3372.8 1360.5,3321 1414,3274.7 1471,3229 1525.1,3188.8 1579.5,3151.8 1607.4,3134 1634.4,3117.7 1660.7,3102.7 1688.5,3087.7 1713.6,3074.8 1740.6,3061.8 1767.5,3049.8 1794.3,3038.7 1821.3,3028.3 1846.6,3019.5 1872.3,3011.3 1898.6,3003.7 1925.6,2996.9 1950.7,2991.4 1899.3,2945.1 1844.8,2898.4 1791.4,2854.8 1739.8,2814.8 1687.8,2776.7 1635.1,2740.3 1582.5,2706.1 1530.1,2674.4" fill="#00b400"/>
<polygon points="1529.3,2673.9 1481.6,2647.1 1433.4,2621.8 1386.4,2599.1 1339.1,2578.1 1292.8,2559.4 1245.3,2542.3 1197,2526.9 1152.3,2514.4 1125.3,2519.4 1097.4,2525.5 1070.4,2532.3 1042.2,2540.4 1014.6,2549.3 985.4,2559.7 958.4,2570.2 929.4,2582.5 900.2,2595.9 872.5,2609.6 844,2624.6 816.8,2639.8 788.6,2656.5 759.2,2674.9 730.7,2693.8 703.1,2712.9 660.3,2744.4 616.3,2778.9 571.2,2816.8 528.5,2854.7 481.4,2899 433.5,2946.8 400.1,2981.7 364.2,3020.6 363.8,3023.7 373,3041.1 384.1,3060.4 396.1,3079.3 408.8,3097.9 422.3,3116.2 436.5,3134.2 451.5,3151.9 468.8,3171.2 485.2,3188.3 504.1,3207 523.7,3225.5 544.2,3243.6 585.2,3277.3 631.6,3311.9 658.5,3330.5 686.5,3348.9 715.6,3367 745.8,3384.9 777.3,3402.6 807,3418.4 837.8,3434.1 869.8,3449.5 903,3464.7 937.5,3479.7 973.3,3494.3 1010.5,3508.7 1053,3524.1 1097.4,3538.9 1130.8,3549.4 1135.3,3549 1188.4,3490.4 1240.9,3435.4 1292.3,3384.3 1342.5,3337.2 1394.6,3291.1 1447.8,3247.2 1498.7,3208 1550.4,3171.2 1600.5,3138.3 1652,3107.6 1703.2,3080 1753,3056.2 1802.6,3035.4 1827.6,3026.1 1852.9,3017.4 1878.8,3009.3 1903,3002.6 1927.9,2996.4 1950.7,2991.4 1899.3,2945.1 1844.8,2898.4 1791.4,2854.8 1739.8,2814.8 1687.8,2776.7 1635.1,2740.3 1582.5,2706.1 1530.1,2674.4" fill="#00e800"/>
<polygon points="1529.3,2673.9 1481.6,2647.1 1433.4,2621.8 1386.4,2599.1 1339.1,2578.1 1292.8,2559.4 1245.3,2542.3 1197,2526.9 1152.3,2514.4 1125.3,2519.4 1099.5,2525 1072.5,2531.8 1046.2,2539.2 1020.5,2547.3 993.2,2556.8 968,2566.4 941,2577.5 913.9,2589.5 888.4,2601.6 860.4,2615.8 833.7,2630.2 806.1,2646 779.7,2662 752.2,2679.5 725.8,2697.1 684.8,2726.1 646.1,2755.3 607,2786.6 567.8,2819.7 524.8,2858.1 485.6,2895 438.1,2942.1 419.5,2961.3 416.6,2965.3 425.3,2983.9 435,3002.1 445.4,3020 458,3039.6 471.4,3058.8 485.7,3077.6 500.8,3096 516.7,3114.1 533.3,3131.9 552.5,3151.1 570.7,3168.3 591.5,3186.9 611.2,3203.5 633.7,3221.5 679.2,3255 706.7,3273.8 733,3290.8 762.8,3309 791.3,3325.5 820.9,3341.7 851.7,3357.8 883.7,3373.6 913.9,3387.7 977.9,3415.3 1011.8,3428.7 1046.9,3441.8 1083.4,3454.5 1117.4,3465.7 1152.6,3476.5 1188.9,3486.8 1193.4,3485 1249.8,3426.3 1304.4,3372.8 1346.2,3333.9 1391.3,3294 1438.8,3254.4 1485,3218.3 1532.8,3183.4 1579.5,3151.8 1625.5,3123 1673.6,3095.6 1719.9,3071.7 1767.5,3049.8 1813,3031.4 1859.3,3015.3 1905.2,3002 1950.7,2991.4 1899.3,2945.1 1844.8,2898.4 1791.4,2854.8 1739.8,2814.8 1687.8,2776.7 1635.1,2740.3 1582.5,2706.1 1530.1,2674.4" fill="#aaf000"/>
<polygon points="1529.3,2673.9 1481.6,2647.1 1433.4,2621.8 1386.4,2599.1 1339.1,2578.1 1292.8,2559.4 1245.3,2542.3 1197,2526.9 1152.3,2514.4 1127.5,2519 1101.6,2524.5 1076.6,2530.7 1052.2,2537.5 1028.3,2544.8 1002.9,2553.3 977.7,2562.6 952.6,2572.6 927.5,2583.4 902.2,2595 852.2,2620.1 801.8,2648.6 749.8,2681 715.8,2704 679.5,2730 643.2,2757.6 607,2786.6 571.2,2816.8 532.2,2851.3 481.4,2899 477.3,2903.1 475.8,2906 482.7,2923.5 491.5,2942.6 501.3,2961.3 512.1,2979.6 523.7,2997.6 537.5,3017 552.2,3035.9 567.9,3054.5 584.3,3072.7 601.6,3090.5 619.8,3107.9 640.4,3126.6 660.2,3143.5 682.7,3161.5 706.1,3179.2 730.5,3196.6 758.2,3215.2 784.8,3232 814.9,3250 843.9,3266.3 874.2,3282.4 905.8,3298.2 938.7,3313.8 973.2,3329 1006.1,3342.7 1040.5,3356.1 1076.2,3369.2 1110,3380.7 1145.1,3391.9 1181.5,3402.6 1219.2,3412.9 1254.3,3421.6 1304.4,3372.8 1346.2,3333.9 1388,3296.8 1432.7,3259.3 1476.6,3224.6 1519.9,3192.5 1562.7,3162.9 1607.4,3134 1652,3107.6 1694.8,3084.4 1736.5,3063.8 1779.8,3044.6 1823.4,3027.6 1865.8,3013.3 1907.5,3001.4 1950.7,2991.4 1899.3,2945.1 1844.8,2898.4 1791.4,2854.8 1739.8,2814.8 1687.8,2776.7 1635.1,2740.3 1582.5,2706.1 1530.1,2674.4" fill="#fff000"/>
<polygon points="1529.3,2673.9 1481.6,2647.1 1433.4,2621.8 1386.4,2599.1 1339.1,2578.1 1292.8,2559.4 1245.3,2542.3 1197,2526.9 1152.3,2514.4 1105.9,2523.6 1060.3,2535.1 1012.6,2550 966.1,2567.1 919.7,2586.8 872.5,2609.6 825.3,2634.9 777.5,2663.4 747.5,2682.6 715.8,2704 684.8,2726.1 654.6,2748.7 619.4,2776.5 584.5,2805.3 543.2,2841.4 543,2843.5 548.4,2861.6 554.9,2879.5 563.3,2898.7 572.8,2917.4 583.5,2935.8 596.2,2955.4 610,2974.5 624.8,2993.1 640.6,3011.3 658.7,3030.6 676.3,3047.9 696.4,3066.3 717.4,3084.3 739.4,3102 762.5,3119.3 786.6,3136.2 815.7,3155.4 844.2,3173 874.1,3190.3 905.5,3207.2 938.5,3223.9 970.6,3239 1004.3,3253.9 1039.6,3268.4 1076.6,3282.5 1112.3,3295.1 1149.7,3307.3 1185.4,3318 1226.1,3329.1 1268.4,3339.4 1323.8,3351.2 1327.6,3350.9 1367.5,3314.7 1407.6,3280.1 1447.8,3247.2 1485,3218.3 1525.1,3188.8 1565.1,3161.2 1605.1,3135.4 1643.2,3112.6 1682.1,3091 1722,3070.7 1761.3,3052.5 1798.4,3037 1836,3023.1 1874.4,3010.6 1912,3000.2 1950.7,2991.4 1899.3,2945.1 1844.8,2898.4 1791.4,2854.8 1739.8,2814.8 1687.8,2776.7 1635.1,2740.3 1582.5,2706.1 1530.1,2674.4" fill="#ff8000"/>
<polygon points="1529.3,2673.9 1481.6,2647.1 1433.4,2621.8 1386.4,2599.1 1339.1,2578.1 1292.8,2559.4 1245.3,2542.3 1197,2526.9 1152.3,2514.4 1110.2,2522.6 1066.4,2533.4 1024.4,2546 981.6,2561.1 937.2,2579.1 894.3,2598.7 852.2,2620.1 808.3,2644.7 779.7,2662 752.2,2679.5 725.8,2697.1 698,2716.6 663.1,2742.3 625.4,2771.6 622.7,2773.9 623,2777.3 625.6,2795.7 629.7,2813.7 635.7,2833 643.1,2851.8 651.8,2870.2 662.6,2889.6 674.6,2908.5 688.9,2928.2 704.3,2947.4 720.9,2966.1 738.6,2984.2 758.7,3003.2 778.4,3020.4 800.7,3038.4 824.2,3056 848.8,3073.2 878.3,3092.2 907.5,3109.8 938.4,3126.9 971,3143.7 1005.5,3160.1 1039.6,3175.1 1075.6,3189.7 1111,3203 1148.3,3215.7 1184.6,3227 1222.7,3237.8 1262.6,3247.9 1304.2,3257.1 1344.2,3264.8 1389.2,3272 1410.5,3274.9 1414,3274.7 1447.8,3247.2 1482.2,3220.4 1517.3,3194.4 1550.4,3171.2 1584.2,3148.7 1618.8,3127.1 1652,3107.6 1686.3,3088.8 1719.9,3071.7 1753,3056.2 1786,3042 1819.2,3029.1 1852.9,3017.4 1885.3,3007.4 1918.8,2998.5 1950.7,2991.4 1899.3,2945.1 1844.8,2898.4 1791.4,2854.8 1739.8,2814.8 1687.8,2776.7 1635.1,2740.3 1582.5,2706.1 1530.1,2674.4" fill="#ff0000"/>
<polygon points="1529.3,2673.9 1481.6,2647.1 1433.4,2621.8 1386.4,2599.1 1339.1,2578.1 1292.8,2559.4 1245.3,2542.3 1197,2526.9 1152.3,2514.4 1114.5,2521.7 1074.5,2531.2 1036.2,2542.3 997,2555.4 958.4,2570.2 919.7,2586.8 880.4,2605.6 842,2625.7 812.6,2642.2 784.2,2659.2 752.2,2679.5 728.6,2695.4 724.7,2714.7 723.3,2733.8 724.1,2752.7 727.1,2772.6 730.5,2786.6 735.4,2801.6 741.3,2816.3 748.8,2832 757.3,2847.3 766.8,2862.2 777,2876.7 789,2892 801.9,2906.9 815.6,2921.4 830,2935.6 846.3,2950.4 863.5,2964.9 881.5,2979 900.4,2992.8 920.1,3006.3 951.4,3026.1 983.3,3044.4 1017.4,3062.2 1053.8,3079.4 1090.8,3095.3 1128.3,3109.9 1168.3,3123.8 1208.5,3136.2 1248.6,3147.2 1288.2,3156.6 1329.9,3165.1 1370.5,3171.9 1409.6,3177.1 1449.9,3181 1491.2,3183.5 1530,3184.4 1532.8,3183.4 1562.7,3162.9 1591.2,3144.2 1638.8,3115.1 1688.5,3087.7 1738.6,3062.8 1788.1,3041.2 1813,3031.4 1838.1,3022.4 1863.6,3013.9 1887.5,3006.8 1912,3000.2 1937.2,2994.3 1938.7,2993.3 1940.3,2985.6 1940.6,2983.5 1939.5,2981.1 1899.3,2945.1 1858.1,2909.6 1817.8,2876 1779.4,2845.3 1716.9,2797.7 1654.3,2753.2 1592.2,2712.3 1530.1,2674.4" fill="#e00000"/>
<polygon points="1529.3,2673.9 1494.9,2654.3 1459.9,2635.4 1425.2,2617.7 1390.1,2600.8 1354.7,2584.8 1320.1,2570.2 1286.4,2557 1253.2,2545.1 1208,2541.8 1163.9,2541 1121.6,2542.6 1081.9,2546.4 1043.4,2552.8 1008.8,2561.1 992.4,2566.1 976.6,2571.6 961.6,2577.7 947.4,2584.2 934.1,2591.3 921.7,2598.7 910.3,2606.5 899.9,2614.7 890.4,2623.2 881,2633.1 873.6,2642.1 866.6,2652.4 860.7,2662.9 856,2673.4 852.3,2684 849.5,2695.8 848,2706.4 847.4,2718 847.9,2729.5 849.4,2742 852.1,2754.3 855.6,2766.3 860.1,2778.1 865.8,2790.6 872.4,2802.8 880.3,2815.6 889.1,2828.1 898.5,2840.2 908.7,2852 920.3,2864.3 945.6,2887.9 974.5,2911.1 1006.2,2933.2 1024.9,2945 1044.7,2956.5 1085.9,2978 1130.1,2997.9 1177.4,3016.1 1226,3031.9 1275.2,3045 1324.3,3055.5 1374.6,3063.6 1400.9,3066.7 1425.3,3068.9 1472.8,3071.2 1518.6,3070.7 1541.5,3069.4 1564.3,3067.4 1586.7,3064.6 1606.3,3061.4 1625.5,3057.5 1644,3053 1664.1,3047.1 1681.2,3041.3 1697.4,3034.8 1712.6,3027.7 1725.1,3021.1 1738.4,3013.1 1749.2,3005.7 1760.4,2996.9 1770.4,2987.7 1779.3,2978.2 1787,2968.5 1793.7,2958.6 1799.2,2948.5 1804.1,2937.1 1807.5,2926.9 1810.1,2915.5 1811.6,2904.1 1812,2891.6 1811.1,2878 1809.5,2869.3 1774.8,2841.7 1739.8,2814.8 1704.1,2788.4 1669,2763.4 1634,2739.5 1599.5,2716.9 1564.8,2695.1 1530.1,2674.4" fill="#c60000"/>
<polygon points="1516.7,2676.3 1493,2663.1 1468.1,2651.1 1441,2639.7 1413.5,2629.8 1384.5,2620.9 1355.3,2613.5 1326.4,2607.6 1297,2603 1267.3,2599.9 1239.5,2598.5 1212.6,2598.5 1185.5,2600 1160.4,2603.1 1136.2,2607.8 1113.4,2614.1 1093.8,2621.5 1076.3,2630.1 1060.3,2640.5 1047.1,2651.8 1036.9,2663.9 1032.6,2670.5 1029.2,2677.2 1026.4,2683.9 1024.1,2691.4 1022.7,2698.9 1022,2706.3 1022,2713.7 1022.7,2721.6 1026.2,2737.2 1032.7,2753.3 1041.7,2769.3 1053.6,2785.5 1067.8,2801.2 1084.4,2816.6 1103.3,2831.6 1124.7,2846.3 1148.3,2860.2 1174.2,2873.5 1200.9,2885.4 1229.3,2896.3 1258.2,2905.7 1288.6,2914 1318.8,2920.6 1348.3,2925.6 1378,2929.1 1407.4,2931 1435.8,2931.2 1464.4,2929.8 1491,2926.8 1516.5,2921.9 1539.1,2915.7 1559.7,2907.9 1578,2898.8 1593.6,2888.4 1600.4,2882.9 1607.2,2876.4 1612.4,2870.4 1617.5,2863.6 1621.7,2856.6 1625.1,2849.5 1627.7,2842.4 1629.5,2835.3 1630.6,2828.3 1631.1,2820.5 1630.8,2812.7 1629.7,2804.4 1625.3,2788.3 1617.9,2771.6 1607.5,2754.7 1594.5,2738.4 1578.8,2722.2 1560.9,2706.6 1540,2691.1 1517.5,2676.7" fill="#ae0000"/>
<path d="M1048.9 3650.8 L1027.1 3628.9 L1005.4 3607.5 L983.8 3586.5 L962.3 3566 L940.8 3545.9 L919.4 3526.2 L898.1 3507 L876.8 3488.2 L855.7 3469.8 L834.6 3451.9 L813.6 3434.4 L792.6 3417.3 L771.8 3400.6 L751 3384.4 L730.3 3368.6 L709.7 3353.2 L689.2 3338.3 L668.8 3323.7 L648.5 3309.6 L628.2 3295.9 L608 3282.6 L588 3269.8 L568 3257.3 L548.1 3245.3 L528.3 3233.6 L508.6 3222.4 L488.9 3211.6 L469.4 3201.1 L450 3191.1 L430.6 3181.5 L411.4 3172.3 L392.2 3163.5 L373.2 3155 L354.2 3147 L335.4 3139.3 L316.6 3132.1 L297.9 3125.2 L279.4 3118.7 M953.1 3672.9 L979.3 3639.8 L1005.4 3607.5 L1031.6 3576 L1057.7 3545.2 L1083.7 3515.1 L1109.8 3485.8 L1135.8 3457.3 L1161.7 3429.6 L1187.6 3402.5 L1213.5 3376.3 L1239.3 3350.8 L1265.1 3326.1 L1290.8 3302.2 L1316.4 3279 L1342 3256.6 L1367.5 3234.9 L1392.9 3214.1 L1418.3 3194 L1443.6 3174.6 L1468.8 3156.1 L1493.9 3138.2 L1519 3121.2 L1544 3104.9 L1568.8 3089.4 L1593.6 3074.7 L1618.3 3060.7 L1642.9 3047.5 L1667.4 3035 L1691.8 3023.3 L1716.1 3012.3 L1740.3 3002.1 L1764.4 2992.7 L1788.3 2983.9 L1812.2 2976 L1835.9 2968.7 L1859.5 2962.2 L1883 2956.5 L1906.4 2951.4 M1101.2 3588.2 L1079.4 3566.5 L1057.7 3545.2 L1036 3524.3 L1014.4 3503.9 L992.8 3483.9 L971.4 3464.3 L950 3445.2 L928.7 3426.5 L907.5 3408.3 L886.3 3390.4 L865.2 3373 L844.2 3356.1 L823.3 3339.5 L802.5 3323.4 L781.7 3307.7 L761 3292.4 L740.5 3277.6 L720 3263.2 L699.5 3249.2 L679.2 3235.6 L659 3222.4 L638.8 3209.7 L618.7 3197.3 L598.8 3185.4 L578.9 3173.9 L559.1 3162.8 L539.4 3152 L519.8 3141.7 L500.2 3131.8 L480.8 3122.3 L461.5 3113.2 L442.3 3104.5 L423.1 3096.2 L404.1 3088.3 L385.1 3080.8 L366.3 3073.6 L347.5 3066.9 L328.8 3060.5 M910.1 3631.1 L936.2 3598.2 L962.3 3566 L988.3 3534.6 L1014.4 3503.9 L1040.4 3473.9 L1066.4 3444.8 L1092.3 3416.3 L1118.2 3388.7 L1144.1 3361.8 L1169.9 3335.6 L1195.7 3310.3 L1221.4 3285.7 L1247 3261.8 L1272.6 3238.7 L1298.2 3216.4 L1323.7 3194.9 L1349.1 3174.1 L1374.4 3154.1 L1399.7 3134.8 L1424.9 3116.3 L1450 3098.6 L1475 3081.7 L1499.9 3065.5 L1524.8 3050.1 L1549.6 3035.4 L1574.3 3021.5 L1598.8 3008.4 L1623.3 2996 L1647.7 2984.4 L1672 2973.5 L1696.2 2963.3 L1720.3 2954 L1744.2 2945.3 L1768.1 2937.4 L1791.8 2930.3 L1815.5 2923.8 L1839 2918.2 L1862.4 2913.2 M1153.5 3528.7 L1131.6 3507 L1109.8 3485.8 L1088 3465.1 L1066.4 3444.8 L1044.8 3424.9 L1023.3 3405.4 L1001.8 3386.4 L980.4 3367.8 L959.1 3349.7 L937.9 3332 L916.8 3314.7 L895.7 3297.8 L874.7 3281.4 L853.8 3265.4 L833 3249.8 L812.3 3234.6 L791.6 3219.9 L771 3205.6 L750.6 3191.7 L730.2 3178.2 L709.8 3165.2 L689.6 3152.5 L669.5 3140.3 L649.4 3128.5 L629.4 3117.1 L609.6 3106.1 L589.8 3095.5 L570.1 3085.3 L550.5 3075.5 L531 3066.1 L511.6 3057.1 L492.3 3048.5 L473 3040.3 L453.9 3032.5 L434.9 3025.1 L415.9 3018.1 L397.1 3011.4 L378.3 3005.2 M867.3 3591.1 L893.4 3558.3 L919.4 3526.2 L945.4 3494.9 L971.4 3464.3 L997.3 3434.5 L1023.3 3405.4 L1049.1 3377.1 L1075 3349.6 L1100.8 3322.8 L1126.6 3296.7 L1152.3 3271.4 L1178 3246.9 L1203.6 3223.2 L1229.1 3200.2 L1254.6 3178 L1280.1 3156.5 L1305.4 3135.8 L1330.8 3115.9 L1356 3096.8 L1381.2 3078.4 L1406.2 3060.8 L1431.2 3043.9 L1456.2 3027.8 L1481 3012.5 L1505.8 2997.9 L1530.4 2984.1 L1555 2971 L1579.5 2958.7 L1603.9 2947.1 L1628.1 2936.3 L1652.3 2926.3 L1676.4 2917 L1700.4 2908.4 L1724.2 2900.6 L1748 2893.5 L1771.6 2887.2 L1795.1 2881.5 L1818.5 2876.6 M1205.5 3472.2 L1183.6 3450.6 L1161.7 3429.6 L1139.9 3408.9 L1118.2 3388.7 L1096.6 3368.9 L1075 3349.6 L1053.5 3330.6 L1032.1 3312.2 L1010.7 3294.1 L989.4 3276.5 L968.2 3259.3 L947.1 3242.6 L926.1 3226.2 L905.1 3210.3 L884.2 3194.9 L863.4 3179.8 L842.7 3165.2 L822 3151 L801.5 3137.2 L781 3123.8 L760.6 3110.9 L740.3 3098.3 L720.1 3086.2 L700 3074.5 L679.9 3063.2 L660 3052.3 L640.1 3041.8 L620.4 3031.7 L600.7 3022.1 L581.1 3012.8 L561.6 3003.9 L542.2 2995.4 L522.9 2987.3 L503.7 2979.6 L484.6 2972.3 L465.5 2965.4 L446.6 2958.8 L427.8 2952.7 M824.9 3552.9 L850.9 3520.2 L876.8 3488.2 L902.8 3457 L928.7 3426.5 L954.6 3396.8 L980.4 3367.8 L1006.3 3339.6 L1032.1 3312.2 L1057.8 3285.5 L1083.5 3259.5 L1109.2 3234.4 L1134.8 3209.9 L1160.4 3186.3 L1185.9 3163.4 L1211.4 3141.3 L1236.8 3119.9 L1262.1 3099.3 L1287.4 3079.5 L1312.6 3060.4 L1337.7 3042.1 L1362.8 3024.6 L1387.8 3007.8 L1412.7 2991.8 L1437.5 2976.6 L1462.2 2962.1 L1486.9 2948.3 L1511.4 2935.3 L1535.9 2923.1 L1560.2 2911.6 L1584.5 2900.9 L1608.7 2890.9 L1632.8 2881.7 L1656.7 2873.2 L1680.6 2865.5 L1704.3 2858.4 L1728 2852.2 L1751.5 2846.6 L1774.9 2841.8 M1257.4 3418.7 L1235.4 3397.3 L1213.5 3376.3 L1191.7 3355.8 L1169.9 3335.6 L1148.2 3316 L1126.6 3296.7 L1105 3277.9 L1083.5 3259.5 L1062.1 3241.6 L1040.8 3224.1 L1019.5 3207 L998.4 3190.4 L977.3 3174.1 L956.2 3158.3 L935.3 3143 L914.4 3128 L893.6 3113.5 L872.9 3099.4 L852.3 3085.7 L831.8 3072.4 L811.3 3059.6 L790.9 3047.2 L770.7 3035.1 L750.5 3023.5 L730.4 3012.3 L710.3 3001.5 L690.4 2991.1 L670.6 2981.2 L650.8 2971.6 L631.2 2962.4 L611.6 2953.6 L592.1 2945.2 L572.7 2937.2 L553.4 2929.6 L534.2 2922.4 L515.1 2915.6 L496.1 2909.2 L477.2 2903.1 M782.8 3516.3 L808.7 3483.7 L834.6 3451.9 L860.4 3420.8 L886.3 3390.4 L912.1 3360.8 L937.9 3332 L963.7 3303.9 L989.4 3276.5 L1015.1 3249.9 L1040.8 3224.1 L1066.4 3199 L1092 3174.7 L1117.5 3151.1 L1143 3128.4 L1168.4 3106.3 L1193.8 3085.1 L1219 3064.6 L1244.3 3044.8 L1269.5 3025.8 L1294.6 3007.6 L1319.6 2990.2 L1344.5 2973.5 L1369.4 2957.6 L1394.2 2942.4 L1418.9 2928 L1443.5 2914.3 L1468.1 2901.4 L1492.5 2889.3 L1516.9 2877.9 L1541.1 2867.2 L1565.3 2857.3 L1589.4 2848.1 L1613.3 2839.7 L1637.2 2832 L1660.9 2825.1 L1684.6 2818.8 L1708.1 2813.4 L1731.5 2808.6 M1309 3368.3 L1287 3347 L1265.1 3326.1 L1243.2 3305.7 L1221.4 3285.7 L1199.6 3266.1 L1178 3246.9 L1156.4 3228.2 L1134.8 3209.9 L1113.4 3192.1 L1092 3174.7 L1070.7 3157.7 L1049.4 3141.2 L1028.3 3125 L1007.2 3109.3 L986.2 3094.1 L965.3 3079.2 L944.4 3064.8 L923.7 3050.8 L903 3037.2 L882.4 3024 L861.9 3011.3 L841.4 2999 L821.1 2987 L800.8 2975.5 L780.7 2964.4 L760.6 2953.7 L740.6 2943.4 L720.7 2933.5 L700.8 2924.1 L681.1 2915 L661.5 2906.3 L641.9 2898 L622.5 2890.1 L603.1 2882.6 L583.8 2875.5 L564.6 2868.8 L545.5 2862.4 L526.6 2856.5 M741 3481.5 L766.8 3449 L792.6 3417.3 L818.4 3386.3 L844.2 3356.1 L870 3326.6 L895.7 3297.8 L921.4 3269.8 L947.1 3242.6 L972.7 3216.1 L998.4 3190.4 L1023.9 3165.4 L1049.4 3141.2 L1074.9 3117.7 L1100.3 3095 L1125.7 3073.1 L1151 3051.9 L1176.3 3031.5 L1201.5 3011.9 L1226.6 2993 L1251.7 2974.8 L1276.7 2957.5 L1301.6 2940.9 L1326.4 2925 L1351.2 2909.9 L1375.9 2895.6 L1400.5 2882 L1425 2869.2 L1449.4 2857.1 L1473.8 2845.8 L1498 2835.2 L1522.2 2825.3 L1546.2 2816.2 L1570.2 2807.9 L1594 2800.3 L1617.8 2793.4 L1641.4 2787.2 L1664.9 2781.8 L1688.4 2777.1 M1360.4 3321 L1338.4 3299.8 L1316.4 3279 L1294.5 3258.6 L1272.6 3238.7 L1250.9 3219.2 L1229.1 3200.2 L1207.5 3181.6 L1185.9 3163.4 L1164.4 3145.7 L1143 3128.4 L1121.6 3111.5 L1100.3 3095 L1079.1 3079 L1058 3063.4 L1036.9 3048.2 L1016 3033.5 L995.1 3019.1 L974.2 3005.2 L953.5 2991.7 L932.9 2978.7 L912.3 2966 L891.8 2953.8 L871.4 2941.9 L851.1 2930.5 L830.8 2919.5 L810.7 2908.9 L790.6 2898.7 L770.6 2888.9 L750.7 2879.5 L730.9 2870.5 L711.2 2861.9 L691.6 2853.7 L672.1 2845.9 L652.6 2838.5 L633.3 2831.5 L614 2824.9 L594.9 2818.6 L575.8 2812.8 M699.5 3448.4 L725.3 3416 L751 3384.4 L776.8 3353.5 L802.5 3323.4 L828.2 3294 L853.8 3265.4 L879.5 3237.5 L905.1 3210.3 L930.7 3184 L956.2 3158.3 L981.7 3133.5 L1007.2 3109.3 L1032.6 3086 L1058 3063.4 L1083.3 3041.5 L1108.6 3020.5 L1133.8 3000.1 L1159 2980.6 L1184 2961.8 L1209.1 2943.7 L1234 2926.5 L1258.9 2909.9 L1283.7 2894.2 L1308.5 2879.2 L1333.1 2864.9 L1357.7 2851.4 L1382.2 2838.6 L1406.6 2826.6 L1430.9 2815.4 L1455.2 2804.8 L1479.3 2795.1 L1503.4 2786 L1527.3 2777.7 L1551.1 2770.2 L1574.9 2763.4 L1598.5 2757.3 L1622 2751.9 L1645.5 2747.2 M1411.6 3276.8 L1389.5 3255.6 L1367.5 3234.9 L1345.5 3214.7 L1323.7 3194.9 L1301.8 3175.5 L1280.1 3156.5 L1258.4 3138 L1236.8 3119.9 L1215.2 3102.3 L1193.8 3085.1 L1172.3 3068.3 L1151 3051.9 L1129.8 3036 L1108.6 3020.5 L1087.5 3005.4 L1066.5 2990.7 L1045.5 2976.5 L1024.6 2962.7 L1003.8 2949.3 L983.1 2936.3 L962.5 2923.7 L942 2911.6 L921.5 2899.8 L901.1 2888.5 L880.8 2877.6 L860.6 2867.1 L840.5 2857 L820.5 2847.2 L800.5 2837.9 L780.6 2829 L760.9 2820.5 L741.2 2812.4 L721.6 2804.7 L702.1 2797.4 L682.7 2790.4 L663.3 2783.9 L644.1 2777.7 L625 2772 M658.4 3417 L684.1 3384.7 L709.7 3353.2 L735.4 3322.5 L761 3292.4 L786.7 3263.2 L812.3 3234.6 L837.9 3206.9 L863.4 3179.8 L888.9 3153.5 L914.4 3128 L939.9 3103.2 L965.3 3079.2 L990.6 3056 L1016 3033.5 L1041.2 3011.7 L1066.5 2990.7 L1091.6 2970.5 L1116.7 2951 L1141.8 2932.3 L1166.8 2914.3 L1191.7 2897.1 L1216.5 2880.7 L1241.3 2865 L1266 2850.1 L1290.7 2835.9 L1315.2 2822.4 L1339.7 2809.8 L1364.1 2797.8 L1388.4 2786.6 L1412.6 2776.2 L1436.7 2766.5 L1460.7 2757.5 L1484.7 2749.3 L1508.5 2741.8 L1532.2 2735 L1555.9 2729 L1579.4 2723.6 L1602.8 2719 M1462.5 3235.6 L1440.3 3214.6 L1418.3 3194 L1396.3 3173.8 L1374.4 3154.1 L1352.5 3134.8 L1330.8 3115.9 L1309 3097.5 L1287.4 3079.5 L1265.8 3062 L1244.3 3044.8 L1222.8 3028.1 L1201.5 3011.9 L1180.2 2996 L1159 2980.6 L1137.8 2965.6 L1116.7 2951 L1095.7 2936.9 L1074.8 2923.1 L1054 2909.8 L1033.2 2896.9 L1012.5 2884.4 L991.9 2872.4 L971.4 2860.7 L951 2849.5 L930.6 2838.6 L910.4 2828.2 L890.2 2818.2 L870.1 2808.6 L850.1 2799.3 L830.2 2790.5 L810.3 2782.1 L790.6 2774.1 L770.9 2766.4 L751.4 2759.2 L731.9 2752.3 L712.5 2745.9 L693.2 2739.8 L674 2734.1 M617.6 3387.2 L643.2 3355.1 L668.8 3323.7 L694.4 3293.1 L720 3263.2 L745.5 3234 L771 3205.6 L796.6 3177.9 L822 3151 L847.5 3124.8 L872.9 3099.4 L898.3 3074.7 L923.7 3050.8 L949 3027.6 L974.2 3005.2 L999.5 2983.6 L1024.6 2962.7 L1049.8 2942.5 L1074.8 2923.1 L1099.8 2904.5 L1124.8 2886.6 L1149.7 2869.5 L1174.5 2853.1 L1199.2 2837.5 L1223.9 2822.7 L1248.5 2808.6 L1273 2795.2 L1297.5 2782.6 L1321.8 2770.7 L1346.1 2759.6 L1370.3 2749.2 L1394.4 2739.5 L1418.4 2730.6 L1442.3 2722.5 L1466.1 2715 L1489.9 2708.3 L1513.5 2702.3 L1537 2697 L1560.4 2692.5 M1513 3197.5 L1490.9 3176.6 L1468.8 3156.1 L1446.8 3136 L1424.9 3116.3 L1403 3097.1 L1381.2 3078.4 L1359.4 3060 L1337.7 3042.1 L1316.1 3024.7 L1294.6 3007.6 L1273.1 2991 L1251.7 2974.8 L1230.3 2959.1 L1209.1 2943.7 L1187.9 2928.8 L1166.8 2914.3 L1145.7 2900.3 L1124.8 2886.6 L1103.9 2873.4 L1083.1 2860.6 L1062.4 2848.2 L1041.7 2836.2 L1021.2 2824.6 L1000.7 2813.5 L980.3 2802.7 L959.9 2792.3 L939.7 2782.4 L919.6 2772.9 L899.5 2763.7 L879.5 2755 L859.6 2746.6 L839.8 2738.7 L820.1 2731.1 L800.5 2723.9 L780.9 2717.1 L761.5 2710.8 L742.1 2704.7 L722.9 2699.1 M577.2 3359.2 L602.7 3327.2 L628.2 3295.9 L653.7 3265.4 L679.2 3235.6 L704.7 3206.5 L730.2 3178.2 L755.6 3150.7 L781 3123.8 L806.4 3097.8 L831.8 3072.4 L857.1 3047.9 L882.4 3024 L907.6 3001 L932.9 2978.7 L958 2957.1 L983.1 2936.3 L1008.2 2916.2 L1033.2 2896.9 L1058.2 2878.4 L1083.1 2860.6 L1107.9 2843.5 L1132.7 2827.3 L1157.4 2811.7 L1182.1 2796.9 L1206.6 2782.9 L1231.1 2769.6 L1255.5 2757 L1279.9 2745.2 L1304.1 2734.2 L1328.3 2723.8 L1352.4 2714.3 L1376.4 2705.4 L1400.3 2697.3 L1424.1 2689.9 L1447.8 2683.2 L1471.4 2677.3 L1494.9 2672.1 L1518.3 2667.5 M1563.2 3162.5 L1541.1 3141.6 L1519 3121.2 L1497 3101.2 L1475 3081.7 L1453.1 3062.6 L1431.2 3043.9 L1409.5 3025.6 L1387.8 3007.8 L1366.1 2990.4 L1344.5 2973.5 L1323 2957 L1301.6 2940.9 L1280.2 2925.2 L1258.9 2909.9 L1237.7 2895.1 L1216.5 2880.7 L1195.5 2866.7 L1174.5 2853.1 L1153.5 2840 L1132.7 2827.3 L1111.9 2814.9 L1091.2 2803 L1070.6 2791.5 L1050.1 2780.4 L1029.7 2769.7 L1009.3 2759.5 L989 2749.6 L968.8 2740.1 L948.7 2731 L928.7 2722.4 L908.7 2714.1 L888.9 2706.2 L869.1 2698.7 L849.4 2691.6 L829.8 2684.9 L810.3 2678.6 L790.9 2672.6 L771.5 2667.1 M537.1 3332.8 L562.5 3300.9 L588 3269.8 L613.4 3239.3 L638.8 3209.7 L664.2 3180.7 L689.6 3152.5 L715 3125.1 L740.3 3098.3 L765.7 3072.4 L790.9 3047.2 L816.2 3022.7 L841.4 2999 L866.6 2976 L891.8 2953.8 L916.9 2932.3 L942 2911.6 L967 2891.6 L991.9 2872.4 L1016.9 2853.9 L1041.7 2836.2 L1066.5 2819.2 L1091.2 2803 L1115.9 2787.6 L1140.5 2772.8 L1165 2758.9 L1189.5 2745.6 L1213.9 2733.2 L1238.2 2721.4 L1262.4 2710.4 L1286.6 2700.1 L1310.6 2690.6 L1334.6 2681.8 L1358.5 2673.7 L1382.3 2666.4 L1406 2659.8 L1429.6 2653.9 L1453 2648.7 L1476.4 2644.2 M1613.1 3130.5 L1591 3109.8 L1568.8 3089.4 L1546.8 3069.5 L1524.8 3050.1 L1502.9 3031 L1481 3012.5 L1459.2 2994.3 L1437.5 2976.6 L1415.8 2959.3 L1394.2 2942.4 L1372.7 2925.9 L1351.2 2909.9 L1329.8 2894.3 L1308.5 2879.2 L1287.2 2864.4 L1266 2850.1 L1244.9 2836.2 L1223.9 2822.7 L1202.9 2809.6 L1182.1 2796.9 L1161.2 2784.7 L1140.5 2772.8 L1119.9 2761.4 L1099.3 2750.4 L1078.8 2739.8 L1058.4 2729.6 L1038.1 2719.8 L1017.8 2710.4 L997.7 2701.3 L977.6 2692.7 L957.6 2684.5 L937.7 2676.7 L917.9 2669.3 L898.1 2662.2 L878.5 2655.6 L858.9 2649.3 L839.4 2643.4 L820 2637.9 M497.4 3308.1 L522.7 3276.3 L548.1 3245.3 L573.4 3215 L598.8 3185.4 L624.1 3156.6 L649.4 3128.5 L674.7 3101.1 L700 3074.5 L725.2 3048.6 L750.5 3023.5 L775.7 2999.1 L800.8 2975.5 L826 2952.6 L851.1 2930.5 L876.1 2909.1 L901.1 2888.5 L926.1 2868.6 L951 2849.5 L975.9 2831.1 L1000.7 2813.5 L1025.4 2796.6 L1050.1 2780.4 L1074.7 2765 L1099.3 2750.4 L1123.8 2736.5 L1148.2 2723.3 L1172.6 2710.9 L1196.8 2699.2 L1221 2688.3 L1245.1 2678.1 L1269.2 2668.6 L1293.1 2659.8 L1317 2651.8 L1340.8 2644.5 L1364.4 2638 L1388 2632.1 L1411.5 2627 L1434.9 2622.5 M1662.6 3101.6 L1640.4 3080.9 L1618.3 3060.7 L1596.3 3040.9 L1574.3 3021.5 L1552.3 3002.6 L1530.4 2984.1 L1508.6 2966 L1486.9 2948.3 L1465.2 2931.1 L1443.5 2914.3 L1422 2897.9 L1400.5 2882 L1379.1 2866.5 L1357.7 2851.4 L1336.4 2836.7 L1315.2 2822.4 L1294.1 2808.6 L1273 2795.2 L1252 2782.2 L1231.1 2769.6 L1210.3 2757.4 L1189.5 2745.6 L1168.8 2734.3 L1148.2 2723.3 L1127.7 2712.8 L1107.2 2702.6 L1086.9 2692.9 L1066.6 2683.5 L1046.4 2674.6 L1026.2 2666.1 L1006.2 2657.9 L986.3 2650.1 L966.4 2642.8 L946.6 2635.8 L926.9 2629.2 L907.3 2623 L887.8 2617.2 L868.3 2611.7 M458 3284.9 L483.3 3253.3 L508.6 3222.4 L533.8 3192.2 L559.1 3162.8 L584.3 3134 L609.6 3106.1 L634.8 3078.8 L660 3052.3 L685.2 3026.5 L710.3 3001.5 L735.5 2977.3 L760.6 2953.7 L785.6 2930.9 L810.7 2908.9 L835.7 2887.6 L860.6 2867.1 L885.5 2847.3 L910.4 2828.2 L935.2 2809.9 L959.9 2792.3 L984.7 2775.5 L1009.3 2759.5 L1033.9 2744.1 L1058.4 2729.6 L1082.8 2715.7 L1107.2 2702.6 L1131.5 2690.3 L1155.8 2678.6 L1179.9 2667.8 L1204 2657.6 L1228 2648.2 L1252 2639.5 L1275.8 2631.5 L1299.5 2624.3 L1323.2 2617.7 L1346.8 2611.9 L1370.2 2606.8 L1393.6 2602.4 M1711.7 3075.7 L1689.5 3055.2 L1667.4 3035 L1645.3 3015.3 L1623.3 2996 L1601.4 2977.1 L1579.5 2958.7 L1557.7 2940.7 L1535.9 2923.1 L1514.2 2906 L1492.5 2889.3 L1471 2873 L1449.4 2857.1 L1428 2841.6 L1406.6 2826.6 L1385.3 2812 L1364.1 2797.8 L1342.9 2784.1 L1321.8 2770.7 L1300.8 2757.8 L1279.9 2745.2 L1259 2733.1 L1238.2 2721.4 L1217.5 2710.1 L1196.8 2699.2 L1176.3 2688.7 L1155.8 2678.6 L1135.4 2669 L1115.1 2659.7 L1094.8 2650.8 L1074.6 2642.3 L1054.6 2634.2 L1034.6 2626.5 L1014.7 2619.2 L994.8 2612.2 L975.1 2605.7 L955.4 2599.5 L935.8 2593.8 L916.4 2588.4 M419 3263.5 L444.2 3231.9 L469.4 3201.1 L494.6 3171.1 L519.8 3141.7 L544.9 3113.1 L570.1 3085.3 L595.2 3058.1 L620.4 3031.7 L645.5 3006.1 L670.6 2981.2 L695.6 2957 L720.7 2933.5 L745.7 2910.9 L770.6 2888.9 L795.6 2867.7 L820.5 2847.2 L845.3 2827.5 L870.1 2808.6 L894.9 2790.3 L919.6 2772.9 L944.2 2756.1 L968.8 2740.1 L993.3 2724.9 L1017.8 2710.4 L1042.2 2696.6 L1066.6 2683.5 L1090.9 2671.2 L1115.1 2659.7 L1139.2 2648.8 L1163.2 2638.7 L1187.2 2629.4 L1211.1 2620.7 L1234.9 2612.8 L1258.6 2605.6 L1282.3 2599.1 L1305.8 2593.3 L1329.3 2588.3 L1352.6 2583.9 M1760.4 3052.9 L1738.2 3032.4 L1716.1 3012.3 L1694 2992.7 L1672 2973.5 L1650 2954.7 L1628.1 2936.3 L1606.3 2918.4 L1584.5 2900.9 L1562.8 2883.8 L1541.1 2867.2 L1519.6 2851 L1498 2835.2 L1476.6 2819.8 L1455.2 2804.8 L1433.9 2790.3 L1412.6 2776.2 L1391.4 2762.5 L1370.3 2749.2 L1349.3 2736.3 L1328.3 2723.8 L1307.4 2711.8 L1286.6 2700.1 L1265.8 2688.9 L1245.1 2678.1 L1224.6 2667.6 L1204 2657.6 L1183.6 2648 L1163.2 2638.7 L1143 2629.9 L1122.8 2621.5 L1102.6 2613.4 L1082.6 2605.8 L1062.6 2598.5 L1042.8 2591.6 L1023 2585.1 L1003.3 2579 L983.7 2573.3 L964.1 2567.9 M380.4 3243.6 L405.5 3212.2 L430.6 3181.5 L455.7 3151.6 L480.8 3122.3 L505.9 3093.8 L531 3066.1 L556.1 3039.1 L581.1 3012.8 L606.1 2987.2 L631.2 2962.4 L656.1 2938.3 L681.1 2915 L706 2892.4 L730.9 2870.5 L755.8 2849.4 L780.6 2829 L805.4 2809.4 L830.2 2790.5 L854.9 2772.4 L879.5 2755 L904.1 2738.3 L928.7 2722.4 L953.2 2707.2 L977.6 2692.7 L1001.9 2679 L1026.2 2666.1 L1050.5 2653.8 L1074.6 2642.3 L1098.7 2631.5 L1122.8 2621.5 L1146.7 2612.1 L1170.6 2603.5 L1194.3 2595.6 L1218 2588.5 L1241.6 2582 L1265.2 2576.3 L1288.6 2571.3 L1311.9 2566.9 M1808.7 3033.1 L1786.5 3012.6 L1764.4 2992.7 L1742.3 2973.1 L1720.3 2954 L1698.3 2935.3 L1676.4 2917 L1654.6 2899.1 L1632.8 2881.7 L1611 2864.7 L1589.4 2848.1 L1567.8 2832 L1546.2 2816.2 L1524.8 2800.9 L1503.4 2786 L1482 2771.6 L1460.7 2757.5 L1439.5 2743.9 L1418.4 2730.6 L1397.3 2717.8 L1376.4 2705.4 L1355.4 2693.4 L1334.6 2681.8 L1313.8 2670.6 L1293.1 2659.8 L1272.5 2649.5 L1252 2639.5 L1231.5 2629.9 L1211.1 2620.7 L1190.8 2611.9 L1170.6 2603.5 L1150.4 2595.5 L1130.3 2587.9 L1110.3 2580.7 L1090.4 2573.8 L1070.6 2567.4 L1050.9 2561.3 L1031.2 2555.6 L1011.6 2550.3 M342.2 3225.3 L367.2 3194 L392.2 3163.5 L417.2 3133.6 L442.3 3104.5 L467.3 3076.2 L492.3 3048.5 L517.2 3021.6 L542.2 2995.4 L567.2 2969.9 L592.1 2945.2 L617 2921.3 L641.9 2898 L666.8 2875.5 L691.6 2853.7 L716.4 2832.7 L741.2 2812.4 L765.9 2792.9 L790.6 2774.1 L815.2 2756 L839.8 2738.7 L864.4 2722.1 L888.9 2706.2 L913.3 2691.1 L937.7 2676.7 L962 2663.1 L986.3 2650.1 L1010.4 2637.9 L1034.6 2626.5 L1058.6 2615.8 L1082.6 2605.8 L1106.5 2596.5 L1130.3 2587.9 L1154.1 2580.1 L1177.8 2572.9 L1201.3 2566.5 L1224.8 2560.8 L1248.2 2555.8 L1271.6 2551.5 M1856.5 3016.2 L1834.3 2995.9 L1812.2 2976 L1790.1 2956.5 L1768.1 2937.4 L1746.1 2918.8 L1724.2 2900.6 L1702.4 2882.8 L1680.6 2865.5 L1658.9 2848.5 L1637.2 2832 L1615.6 2815.9 L1594 2800.3 L1572.6 2785 L1551.1 2770.2 L1529.8 2755.8 L1508.5 2741.8 L1487.3 2728.2 L1466.1 2715 L1445.1 2702.2 L1424.1 2689.9 L1403.1 2677.9 L1382.3 2666.4 L1361.5 2655.3 L1340.8 2644.5 L1320.1 2634.2 L1299.5 2624.3 L1279 2614.7 L1258.6 2605.6 L1238.3 2596.8 L1218 2588.5 L1197.9 2580.5 L1177.8 2572.9 L1157.7 2565.8 L1137.8 2558.9 L1117.9 2552.5 L1098.2 2546.5 L1078.5 2540.8 L1058.9 2535.5 M304.4 3208.6 L329.3 3177.4 L354.2 3147 L379.1 3117.3 L404.1 3088.3 L429 3060 L453.9 3032.5 L478.8 3005.7 L503.7 2979.6 L528.6 2954.3 L553.4 2929.6 L578.3 2905.8 L603.1 2882.6 L627.9 2860.2 L652.6 2838.5 L677.4 2817.6 L702.1 2797.4 L726.7 2777.9 L751.4 2759.2 L775.9 2741.2 L800.5 2723.9 L825 2707.4 L849.4 2691.6 L873.8 2676.6 L898.1 2662.2 L922.4 2648.6 L946.6 2635.8 L970.7 2623.7 L994.8 2612.2 L1018.8 2601.6 L1042.8 2591.6 L1066.6 2582.4 L1090.4 2573.8 L1114.2 2566 L1137.8 2558.9 L1161.3 2552.6 L1184.8 2546.9 L1208.2 2541.9 L1231.5 2537.7 M1903.8 3002.3 L1881.6 2982.1 L1859.5 2962.2 L1837.5 2942.8 L1815.5 2923.8 L1793.5 2905.3 L1771.6 2887.2 L1749.8 2869.4 L1728 2852.2 L1706.2 2835.3 L1684.6 2818.8 L1663 2802.8 L1641.4 2787.2 L1619.9 2772 L1598.5 2757.3 L1577.2 2742.9 L1555.9 2729 L1534.6 2715.4 L1513.5 2702.3 L1492.4 2689.6 L1471.4 2677.3 L1450.4 2665.4 L1429.6 2653.9 L1408.7 2642.8 L1388 2632.1 L1367.3 2621.8 L1346.8 2611.9 L1326.2 2602.4 L1305.8 2593.3 L1285.4 2584.6 L1265.2 2576.3 L1245 2568.4 L1224.8 2560.8 L1204.8 2553.7 L1184.8 2546.9 L1164.9 2540.5 L1145.1 2534.5 L1125.4 2528.9 L1105.8 2523.6 M266.9 3193.4 L291.8 3162.4 L316.6 3132.1 L341.4 3102.5 L366.3 3073.6 L391.1 3045.5 L415.9 3018.1 L440.7 2991.4 L465.5 2965.4 L490.3 2940.1 L515.1 2915.6 L539.9 2891.8 L564.6 2868.8 L589.4 2846.5 L614 2824.9 L638.7 2804 L663.3 2783.9 L687.9 2764.5 L712.5 2745.9 L737 2727.9 L761.5 2710.8 L785.9 2694.3 L810.3 2678.6 L834.6 2663.6 L858.9 2649.3 L883.1 2635.8 L907.3 2623 L931.4 2610.9 L955.4 2599.5 L979.4 2588.9 L1003.3 2579 L1027.1 2569.8 L1050.9 2561.3 L1074.6 2553.5 L1098.2 2546.5 L1121.7 2540.1 L1145.1 2534.5 L1168.5 2529.5 L1191.7 2525.3" fill="none" stroke="#140400" stroke-width="4.1" stroke-linejoin="round"/>
<polygon points="996.4,3716.3 1013.3,3694.9 1030.2,3673.8 1047.1,3653 1064,3632.4 1080.9,3612.3 1097.7,3592.4 1114.5,3572.8 1131.4,3553.5 1148.2,3534.6 1164.9,3516 1181.7,3497.7 1198.5,3479.7 1215.2,3462 1231.9,3444.6 1248.6,3427.6 1265.3,3410.8 1281.9,3394.4 1298.5,3378.3 1315.1,3362.6 1331.7,3347.1 1348.3,3332 1364.8,3317.1 1381.3,3302.6 1397.7,3288.5 1414.2,3274.6 1430.6,3261.1 1447,3247.8 1463.3,3234.9 1479.6,3222.3 1495.9,3210.1 1512.2,3198.1 1528.4,3186.5 1544.6,3175.2 1560.7,3164.2 1576.8,3153.5 1592.9,3143.1 1608.9,3133.1 1624.9,3123.4 1640.9,3114 1656.8,3104.9 1672.6,3096.1 1688.5,3087.6 1704.3,3079.5 1720,3071.7 1735.7,3064.1 1751.4,3056.9 1767,3050 1782.6,3043.5 1798.1,3037.2 1813.6,3031.2 1829,3025.6 1844.4,3020.2 1859.7,3015.2 1875,3010.5 1890.2,3006 1905.4,3001.9 1920.5,2998.1 1935.6,2994.6 1950.7,2991.4 1950.7,2991.4 1936.4,2978.3 1922.1,2965.5 1907.9,2952.8 1893.7,2940.2 1879.5,2927.9 1865.3,2915.7 1851.2,2903.7 1837.1,2891.9 1823,2880.3 1808.9,2868.8 1794.8,2857.5 1780.8,2846.4 1766.8,2835.5 1752.8,2824.7 1738.9,2814.1 1724.9,2803.7 1711,2793.4 1697.1,2783.4 1683.3,2773.4 1669.4,2763.7 1655.6,2754.2 1641.8,2744.8 1628.1,2735.6 1614.4,2726.5 1600.6,2717.6 1587,2708.9 1573.3,2700.4 1559.7,2692 1546.1,2683.8 1532.5,2675.8 1519,2668 1505.5,2660.3 1492,2652.7 1478.6,2645.4 1465.1,2638.2 1451.8,2631.2 1438.4,2624.3 1425.1,2617.6 1411.8,2611.1 1398.5,2604.7 1385.2,2598.5 1372,2592.5 1358.8,2586.6 1345.7,2580.9 1332.6,2575.4 1319.5,2570 1306.4,2564.8 1293.4,2559.7 1280.4,2554.8 1267.5,2550 1254.5,2545.5 1241.6,2541 1228.8,2536.8 1216,2532.7 1203.2,2528.7 1190.4,2524.9 1177.7,2521.3 1165,2517.8 1152.3,2514.4 1152.3,2514.4 1137.4,2517.1 1122.4,2520 1107.3,2523.2 1092.3,2526.7 1077.2,2530.5 1062,2534.6 1046.9,2539 1031.7,2543.7 1016.5,2548.7 1001.2,2553.9 985.9,2559.5 970.6,2565.3 955.3,2571.5 939.9,2578 924.5,2584.7 909,2591.7 893.6,2599.1 878.1,2606.7 862.6,2614.7 847.1,2622.9 831.5,2631.5 815.9,2640.3 800.3,2649.4 784.7,2658.9 769.1,2668.6 753.4,2678.7 737.7,2689 722,2699.7 706.3,2710.6 690.6,2721.9 674.8,2733.5 659.1,2745.3 643.3,2757.5 627.5,2770 611.7,2782.7 595.8,2795.8 580,2809.2 564.1,2822.9 548.3,2836.9 532.4,2851.2 516.5,2865.7 500.6,2880.6 484.7,2895.8 468.8,2911.3 452.9,2927.1 437,2943.2 421.1,2959.6 405.2,2976.3 389.2,2993.3 373.3,3010.6 357.4,3028.3 341.4,3046.2 325.5,3064.4 309.5,3082.8 293.6,3101.6 277.7,3120.7 261.7,3140.1 245.8,3159.8 229.9,3179.8 229.9,3179.8 241.8,3184 253.7,3188.4 265.7,3192.9 277.7,3197.6 289.7,3202.5 301.8,3207.5 314,3212.7 326.1,3218 338.4,3223.5 350.6,3229.2 362.9,3235 375.2,3241 387.6,3247.2 400,3253.5 412.5,3260 425,3266.6 437.5,3273.4 450.1,3280.4 462.7,3287.6 475.3,3294.9 488,3302.4 500.7,3310.1 513.5,3317.9 526.3,3325.9 539.1,3334.1 552,3342.4 564.9,3351 577.8,3359.7 590.8,3368.5 603.9,3377.6 616.9,3386.8 630,3396.1 643.1,3405.7 656.3,3415.4 669.5,3425.3 682.7,3435.4 696,3445.7 709.3,3456.1 722.7,3466.7 736,3477.5 749.4,3488.4 762.9,3499.6 776.4,3510.9 789.9,3522.4 803.4,3534.1 817,3545.9 830.6,3557.9 844.3,3570.2 857.9,3582.5 871.7,3595.1 885.4,3607.9 899.2,3620.8 913,3633.9 926.8,3647.2 940.7,3660.6 954.6,3674.3 968.5,3688.1 982.4,3702.1 996.4,3716.3" fill="none" stroke="#0a0a00" stroke-width="4.8" stroke-linejoin="miter"/>
<line x1="293.4" y1="3078" x2="293.4" y2="3092" stroke="#0000e0" stroke-width="3.5" stroke-dasharray="8 4"/><rect x="281.9" y="3018.5" width="23" height="71" rx="11.5" fill="#0000f0"/>
<rect x="480.6" y="2824.5" width="23" height="59" rx="11.5" fill="#0000f0"/>
<line x1="676.5" y1="2901" x2="676.5" y2="2957" stroke="#0000e0" stroke-width="3.5" stroke-dasharray="8 4"/><circle cx="676.5" cy="2901" r="11.5" fill="#0000f0"/><circle cx="676.5" cy="2939" r="11.5" fill="#0000f0"/>
<rect x="858" y="3024.5" width="23" height="63" rx="11.5" fill="#0000f0"/>
<circle cx="475" cy="3145" r="11.5" fill="#0000f0"/><circle cx="475" cy="3179" r="11.5" fill="#0000f0"/>
<rect x="653.5" y="3264.5" width="23" height="40" rx="11.5" fill="#0000f0"/>
<line x1="861.5" y1="3400" x2="861.5" y2="3440" stroke="#0000e0" stroke-width="3.5" stroke-dasharray="8 4"/><rect x="850" y="3339.5" width="23" height="72" rx="11.5" fill="#0000f0"/>
<rect x="1056.4" y="3179.5" width="23" height="64" rx="11.5" fill="#0000f0"/>
<line x1="1273.8" y1="3410" x2="1273.8" y2="3442" stroke="#0000e0" stroke-width="3.5" stroke-dasharray="8 4"/><rect x="1262.3" y="3352.5" width="23" height="69" rx="11.5" fill="#0000f0"/><circle cx="1273.8" cy="3442.6" r="11.5" fill="#0000f0"/>
<rect x="1054.9" y="3624.5" width="23" height="56" rx="11.5" fill="#0000f0"/>
<rect x="1053.4" y="2465.5" width="23" height="38" rx="11.5" fill="#0000f0"/><circle cx="1064.9" cy="2525.6" r="11.5" fill="#0000f0"/>
<circle cx="1255.7" cy="2597.5" r="10.5" fill="#0000f0"/>
<line x1="1452" y1="2684" x2="1452" y2="2709" stroke="#0000e0" stroke-width="3.5" stroke-dasharray="8 4"/><rect x="1440.5" y="2660.5" width="23" height="35" rx="11.5" fill="#0000f0"/>
<line x1="1655.2" y1="2812" x2="1655.2" y2="2842" stroke="#0000e0" stroke-width="3.5" stroke-dasharray="8 4"/><rect x="1643.7" y="2770.5" width="23" height="53" rx="11.5" fill="#0000f0"/>
<circle cx="1862.5" cy="3000" r="11.5" fill="#0000f0"/><circle cx="1862.5" cy="3034" r="11.5" fill="#0000f0"/><circle cx="1862.5" cy="3061" r="11.5" fill="#0000f0"/>
<polyline points="201.4,2585.2 250.7,3614.4 998.5,4172.6 1915.6,3700.3" fill="none" stroke="#000" stroke-width="4" stroke-linejoin="miter"/>
<rect x="1565.7" y="3376.7" width="95.5" height="57" fill="#990000"/>
<text x="1690" y="3414.9" font-size="50" fill="#111">&gt; 40</text>
<rect x="1565.7" y="3450.7" width="95.5" height="57" fill="#fff000"/>
<text x="1690" y="3488.9" font-size="50" fill="#111">&lt; 38</text>
<rect x="1565.7" y="3524.7" width="95.5" height="57" fill="#005c3d"/>
<text x="1690" y="3562.9" font-size="50" fill="#111">&lt; 28</text>
<text transform="matrix(0.9129 -0.4082 0.0479 0.9989 180.7 3490)" x="0" y="14" font-size="39" text-anchor="middle">10</text>
<text transform="matrix(0.9164 -0.4003 0.0479 0.9989 172.7 3323.4)" x="0" y="14" font-size="39" text-anchor="middle">20</text>
<text transform="matrix(0.9199 -0.3921 0.0479 0.9989 164.6 3153.6)" x="0" y="14" font-size="39" text-anchor="middle">30</text>
<text transform="matrix(0.9235 -0.3837 0.0479 0.9989 156.3 2980.4)" x="0" y="14" font-size="39" text-anchor="middle">40</text>
<text transform="matrix(0.9270 -0.3750 0.0479 0.9989 147.8 2803.8)" x="0" y="14" font-size="39" text-anchor="middle">50</text>
<text transform="matrix(0.9306 -0.3661 0.0479 0.9989 139.2 2623.6)" x="0" y="14" font-size="39" text-anchor="middle">60</text>
<text transform="matrix(0.8891 -0.4578 0.7212 0.5384 938.5 4212.6)" x="0" y="13.8" font-size="38.5" text-anchor="middle">0.0</text>
<text transform="matrix(0.8914 -0.4533 0.7212 0.5384 858.8 4153.1)" x="0" y="13.8" font-size="38.5" text-anchor="middle">0.2</text>
<text transform="matrix(0.8936 -0.4489 0.7212 0.5384 780.2 4094.4)" x="0" y="13.8" font-size="38.5" text-anchor="middle">0.4</text>
<text transform="matrix(0.8958 -0.4445 0.7212 0.5384 702.8 4036.7)" x="0" y="13.8" font-size="38.5" text-anchor="middle">0.6</text>
<text transform="matrix(0.8979 -0.4402 0.7212 0.5384 626.5 3979.7)" x="0" y="13.8" font-size="38.5" text-anchor="middle">0.8</text>
<text transform="matrix(0.9000 -0.4360 0.7212 0.5384 551.3 3923.6)" x="0" y="13.8" font-size="38.5" text-anchor="middle">1.0</text>
<text transform="matrix(0.9019 -0.4318 0.7212 0.5384 477.1 3868.2)" x="0" y="13.8" font-size="38.5" text-anchor="middle">1.2</text>
<text transform="matrix(0.9039 -0.4278 0.7212 0.5384 404 3813.6)" x="0" y="13.8" font-size="38.5" text-anchor="middle">1.4</text>
<text transform="matrix(0.9058 -0.4238 0.7212 0.5384 331.9 3759.8)" x="0" y="13.8" font-size="38.5" text-anchor="middle">1.6</text>
<text transform="matrix(0.9076 -0.4198 0.7212 0.5384 260.8 3706.7)" x="0" y="13.8" font-size="38.5" text-anchor="middle">1.8</text>
<text transform="matrix(0.9094 -0.4159 0.7212 0.5384 190.7 3654.4)" x="0" y="13.8" font-size="38.5" text-anchor="middle">2.0</text>
<text transform="matrix(0.8013 0.5982 -0.9335 0.4807 1033.9 4208.2)" x="0" y="13.8" font-size="38.5" text-anchor="middle">0</text>
<text transform="matrix(0.8056 0.5924 -0.9335 0.4807 1139.3 4164.7)" x="0" y="13.8" font-size="38.5" text-anchor="middle">10</text>
<text transform="matrix(0.8098 0.5867 -0.9335 0.4807 1234.9 4115.5)" x="0" y="13.8" font-size="38.5" text-anchor="middle">20</text>
<text transform="matrix(0.8138 0.5811 -0.9335 0.4807 1329.4 4066.8)" x="0" y="13.8" font-size="38.5" text-anchor="middle">30</text>
<text transform="matrix(0.8177 0.5756 -0.9335 0.4807 1422.7 4018.8)" x="0" y="13.8" font-size="38.5" text-anchor="middle">40</text>
<text transform="matrix(0.8215 0.5702 -0.9335 0.4807 1514.9 3971.3)" x="0" y="13.8" font-size="38.5" text-anchor="middle">50</text>
<text transform="matrix(0.8252 0.5648 -0.9335 0.4807 1606 3924.4)" x="0" y="13.8" font-size="38.5" text-anchor="middle">60</text>
<text transform="matrix(0.8288 0.5595 -0.9335 0.4807 1696 3878.1)" x="0" y="13.8" font-size="38.5" text-anchor="middle">70</text>
<text transform="matrix(0.8323 0.5543 -0.9335 0.4807 1784.9 3832.3)" x="0" y="13.8" font-size="38.5" text-anchor="middle">80</text>
<text transform="matrix(0.8357 0.5491 -0.9335 0.4807 1872.8 3787)" x="0" y="13.8" font-size="38.5" text-anchor="middle">90</text>
<text transform="matrix(0.8390 0.5441 -0.9335 0.4807 1968.6 3748.1)" x="0" y="13.8" font-size="38.5" text-anchor="middle">100</text>
<text transform="matrix(0.6811 0.5085 -1.1519 0.5581 431 3968)" x="0" y="16.5" font-size="46" text-anchor="middle" font-weight="bold">Participation</text>
<text transform="matrix(0.8179 -0.4212 1.0351 0.7184 1625 4045)" x="0" y="16.5" font-size="46" text-anchor="middle" font-weight="bold">Age, days</text>
<text transform="matrix(0.0445 0.9289 -1.2511 0.5333 53 3166)" x="0" y="16.5" font-size="46" text-anchor="middle" font-weight="bold">Compressive strength, MPa</text>
</g>
<text class="cap" x="991" y="2129" font-size="82" text-anchor="middle">(<tspan font-weight="bold">a</tspan>)</text>
<text class="cap" x="991" y="4355" font-size="82" text-anchor="middle">(<tspan font-weight="bold">b</tspan>)</text>
</svg>
</body></html>
